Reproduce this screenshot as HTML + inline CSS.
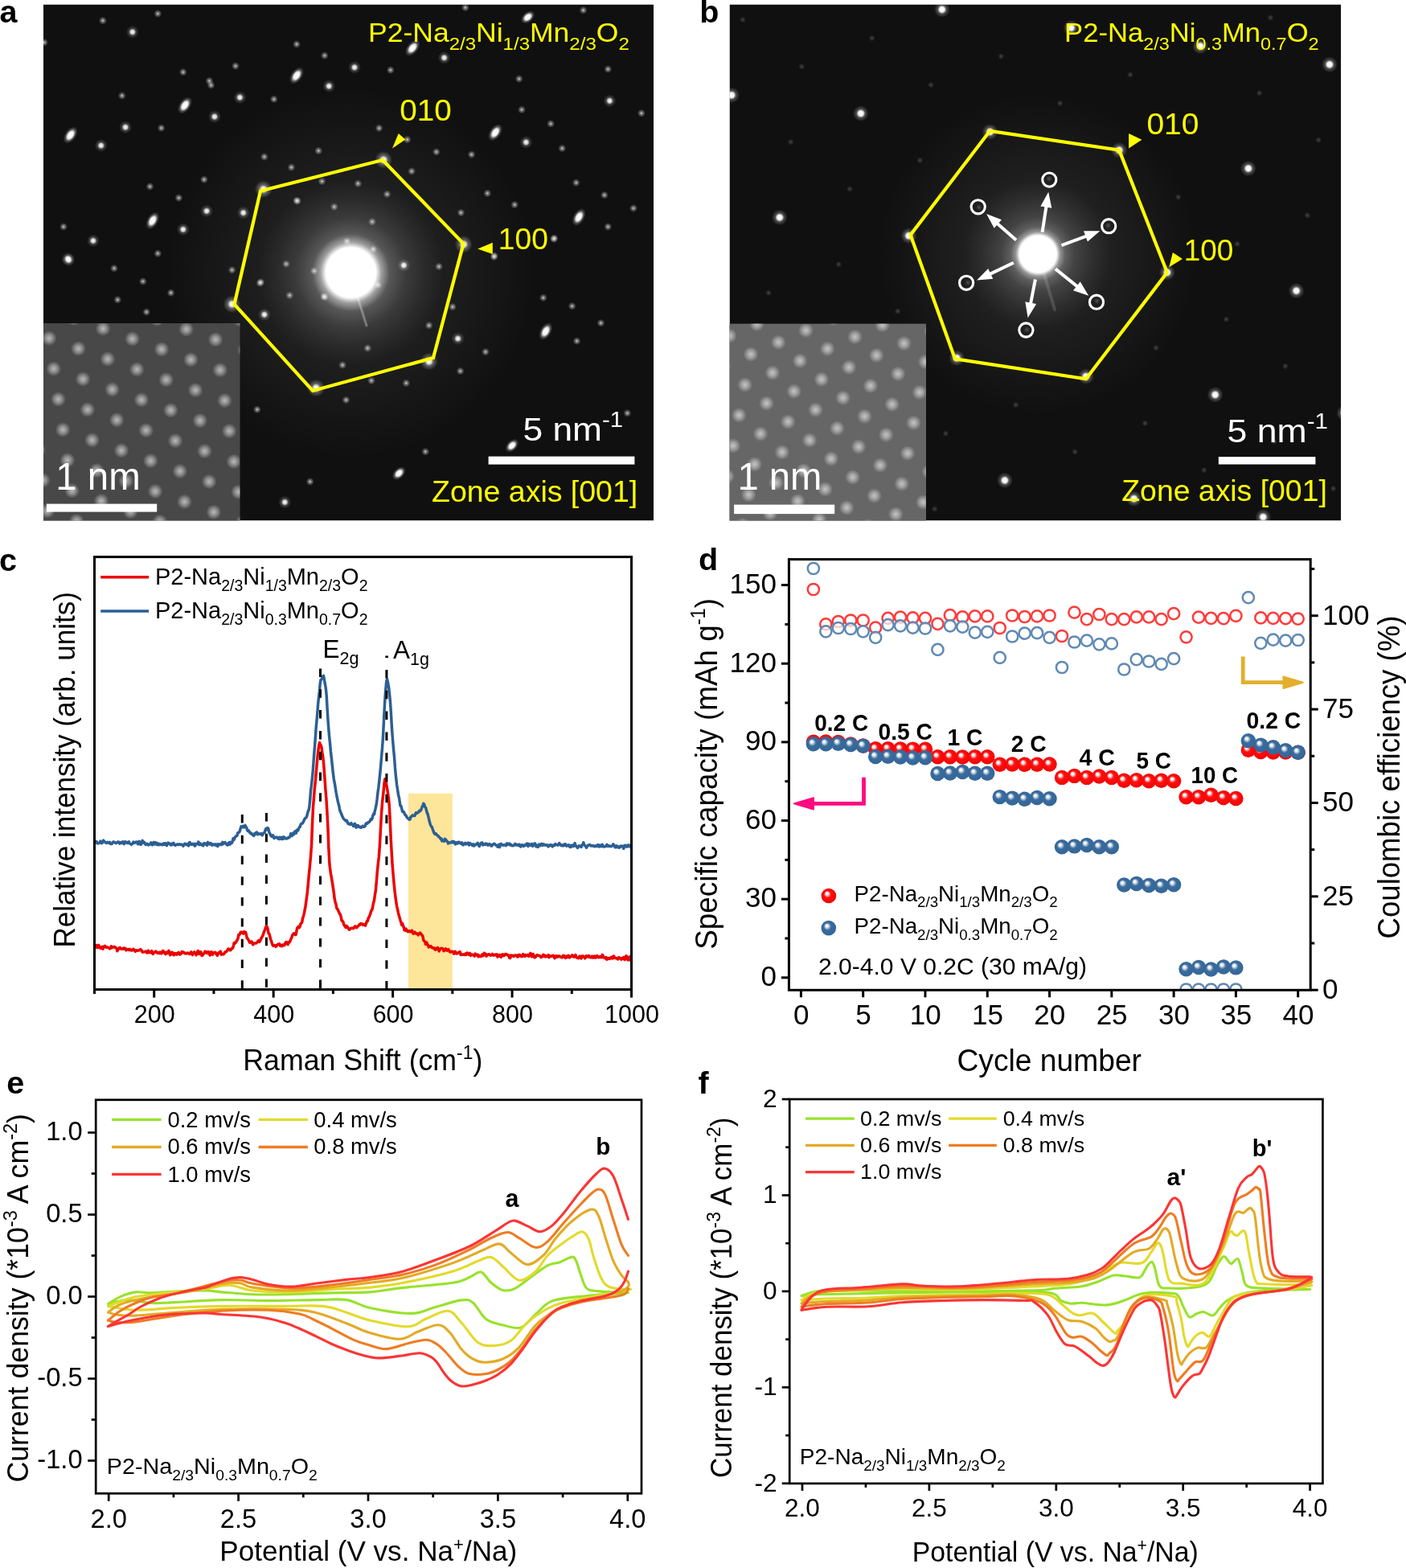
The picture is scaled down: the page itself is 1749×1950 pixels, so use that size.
<!DOCTYPE html>
<html><head><meta charset="utf-8"><title>Figure</title>
<style>html,body{margin:0;padding:0;background:#fff;}body{width:1749px;height:1950px;overflow:hidden;}svg{display:block;}</style>
</head><body>
<svg xmlns="http://www.w3.org/2000/svg" width="1749" height="1950" viewBox="0 0 1749 1950">
<rect x="0" y="0" width="1749" height="1950" fill="#fff"/>
<defs><radialGradient id="gS"><stop offset="0" stop-color="#fff" stop-opacity="0.85"/><stop offset="0.3" stop-color="#fff" stop-opacity="0.45"/><stop offset="1" stop-color="#fff" stop-opacity="0"/></radialGradient><radialGradient id="gM"><stop offset="0" stop-color="#fff" stop-opacity="1"/><stop offset="0.3" stop-color="#fff" stop-opacity="0.8"/><stop offset="0.55" stop-color="#fff" stop-opacity="0.2"/><stop offset="1" stop-color="#fff" stop-opacity="0"/></radialGradient><radialGradient id="gB"><stop offset="0" stop-color="#fff" stop-opacity="1"/><stop offset="0.4" stop-color="#fff" stop-opacity="0.95"/><stop offset="0.7" stop-color="#fff" stop-opacity="0.25"/><stop offset="1" stop-color="#fff" stop-opacity="0"/></radialGradient><radialGradient id="gV"><stop offset="0" stop-color="#fff" stop-opacity="1"/><stop offset="0.25" stop-color="#fff" stop-opacity="0.9"/><stop offset="0.5" stop-color="#fff" stop-opacity="0.3"/><stop offset="1" stop-color="#fff" stop-opacity="0"/></radialGradient><radialGradient id="gL"><stop offset="0" stop-color="#fff" stop-opacity="1"/><stop offset="0.3" stop-color="#fff" stop-opacity="0.95"/><stop offset="0.55" stop-color="#fff" stop-opacity="0.25"/><stop offset="1" stop-color="#fff" stop-opacity="0"/></radialGradient><radialGradient id="gF"><stop offset="0" stop-color="#fff" stop-opacity="0.22"/><stop offset="1" stop-color="#fff" stop-opacity="0"/></radialGradient><radialGradient id="gCa"><stop offset="0" stop-color="#fff" stop-opacity="1"/><stop offset="0.27" stop-color="#fff" stop-opacity="1"/><stop offset="0.33" stop-color="#fff" stop-opacity="0.55"/><stop offset="0.42" stop-color="#fff" stop-opacity="0.22"/><stop offset="0.6" stop-color="#fff" stop-opacity="0.1"/><stop offset="0.8" stop-color="#fff" stop-opacity="0.04"/><stop offset="1" stop-color="#fff" stop-opacity="0"/></radialGradient><radialGradient id="gCb"><stop offset="0" stop-color="#fff" stop-opacity="1"/><stop offset="0.25" stop-color="#fff" stop-opacity="1"/><stop offset="0.3" stop-color="#fff" stop-opacity="0.5"/><stop offset="0.37" stop-color="#fff" stop-opacity="0.25"/><stop offset="0.5" stop-color="#fff" stop-opacity="0.13"/><stop offset="0.75" stop-color="#fff" stop-opacity="0.05"/><stop offset="1" stop-color="#fff" stop-opacity="0"/></radialGradient><radialGradient id="gHalo"><stop offset="0" stop-color="#fff" stop-opacity="0.13"/><stop offset="0.5" stop-color="#fff" stop-opacity="0.06"/><stop offset="1" stop-color="#fff" stop-opacity="0"/></radialGradient><radialGradient id="gDot"><stop offset="0" stop-color="#fff" stop-opacity="0.62"/><stop offset="0.45" stop-color="#fff" stop-opacity="0.38"/><stop offset="1" stop-color="#fff" stop-opacity="0"/></radialGradient><clipPath id="clipA"><rect x="54" y="5.5" width="759" height="642"/></clipPath><clipPath id="clipB"><rect x="907.5" y="5.5" width="760.5" height="642"/></clipPath><clipPath id="clipAi"><rect x="54" y="402" width="244.5" height="245.5"/></clipPath><clipPath id="clipBi"><rect x="907.5" y="402.6" width="244.5" height="245"/></clipPath></defs>
<g clip-path="url(#clipA)">
<rect x="54" y="5.5" width="759" height="642" fill="#101010"/>
<circle cx="436.5" cy="339" r="230" fill="url(#gHalo)"/>
<circle cx="127.9" cy="25.6" r="5" fill="url(#gS)"/>
<circle cx="196.3" cy="17" r="5" fill="url(#gS)"/>
<circle cx="164.8" cy="39.8" r="8" fill="url(#gM)"/>
<circle cx="55" cy="52.8" r="5" fill="url(#gS)"/>
<ellipse cx="0" cy="0" rx="12" ry="7" fill="url(#gB)" transform="translate(369,94) rotate(-55)"/>
<circle cx="409.2" cy="107.1" r="8" fill="url(#gM)"/>
<circle cx="260.4" cy="100.6" r="5" fill="url(#gS)"/>
<circle cx="262.6" cy="106" r="5" fill="url(#gS)"/>
<circle cx="298.4" cy="121.2" r="8" fill="url(#gM)"/>
<ellipse cx="0" cy="0" rx="12" ry="7" fill="url(#gB)" transform="translate(230,131) rotate(-55)"/>
<circle cx="266.9" cy="145.1" r="8" fill="url(#gM)"/>
<circle cx="156.1" cy="158.2" r="8" fill="url(#gM)"/>
<ellipse cx="0" cy="0" rx="12" ry="7" fill="url(#gB)" transform="translate(87.7,168) rotate(-55)"/>
<circle cx="125.7" cy="181" r="8" fill="url(#gM)"/>
<circle cx="293" cy="82.1" r="5" fill="url(#gS)"/>
<circle cx="227.8" cy="89.7" r="5" fill="url(#gS)"/>
<circle cx="151.8" cy="119" r="5" fill="url(#gS)"/>
<circle cx="403.8" cy="69.1" r="5" fill="url(#gS)"/>
<circle cx="369" cy="55" r="5" fill="url(#gS)"/>
<circle cx="328.8" cy="195" r="5" fill="url(#gS)"/>
<circle cx="362.5" cy="208.1" r="5" fill="url(#gS)"/>
<circle cx="396.2" cy="187.5" r="5" fill="url(#gS)"/>
<circle cx="253.9" cy="223.3" r="5" fill="url(#gS)"/>
<circle cx="186.5" cy="232" r="5" fill="url(#gS)"/>
<circle cx="222.4" cy="246.1" r="5" fill="url(#gS)"/>
<circle cx="257.1" cy="262.4" r="8" fill="url(#gM)"/>
<circle cx="302.7" cy="264.6" r="8" fill="url(#gM)"/>
<ellipse cx="0" cy="0" rx="12" ry="7" fill="url(#gB)" transform="translate(189.8,274.4) rotate(-60)"/>
<circle cx="227.8" cy="285.3" r="8" fill="url(#gM)"/>
<circle cx="115.9" cy="299.4" r="8" fill="url(#gM)"/>
<circle cx="79" cy="282" r="5" fill="url(#gS)"/>
<circle cx="85.5" cy="323.3" r="8" fill="url(#gM)"/>
<circle cx="369" cy="249.4" r="5" fill="url(#gS)"/>
<circle cx="400.5" cy="225.5" r="5" fill="url(#gS)"/>
<circle cx="327.7" cy="235.3" r="11" fill="url(#gV)"/>
<circle cx="200.6" cy="159.2" r="5" fill="url(#gS)"/>
<circle cx="340.8" cy="123.4" r="5" fill="url(#gS)"/>
<ellipse cx="0" cy="0" rx="12" ry="7" fill="url(#gB)" transform="translate(513.2,59.7) rotate(-50)"/>
<circle cx="552.6" cy="71.8" r="8" fill="url(#gM)"/>
<circle cx="441" cy="83.8" r="8" fill="url(#gM)"/>
<circle cx="485.8" cy="87.1" r="5" fill="url(#gS)"/>
<ellipse cx="0" cy="0" rx="10" ry="6.5" fill="url(#gB)" transform="translate(656.6,21.4) rotate(-40)"/>
<circle cx="725.6" cy="12.7" r="5" fill="url(#gS)"/>
<circle cx="578.9" cy="9.4" r="5" fill="url(#gS)"/>
<circle cx="758.4" cy="125.4" r="8" fill="url(#gM)"/>
<circle cx="685.1" cy="153.9" r="5" fill="url(#gS)"/>
<ellipse cx="0" cy="0" rx="12" ry="7" fill="url(#gB)" transform="translate(616.1,164.8) rotate(-55)"/>
<circle cx="654.4" cy="176.9" r="8" fill="url(#gM)"/>
<circle cx="586.6" cy="192.2" r="5" fill="url(#gS)"/>
<circle cx="542.8" cy="188.9" r="5" fill="url(#gS)"/>
<circle cx="506.6" cy="173.6" r="5" fill="url(#gS)"/>
<circle cx="512.1" cy="213" r="5" fill="url(#gS)"/>
<circle cx="471.6" cy="159.4" r="5" fill="url(#gS)"/>
<circle cx="649" cy="136.4" r="5" fill="url(#gS)"/>
<circle cx="716.8" cy="227.2" r="5" fill="url(#gS)"/>
<circle cx="606.3" cy="240.4" r="5" fill="url(#gS)"/>
<circle cx="573.4" cy="264.5" r="5" fill="url(#gS)"/>
<ellipse cx="0" cy="0" rx="12" ry="7" fill="url(#gB)" transform="translate(720.1,270) rotate(-60)"/>
<circle cx="756.3" cy="282" r="5" fill="url(#gS)"/>
<circle cx="689.5" cy="296.2" r="5" fill="url(#gS)"/>
<circle cx="615" cy="318.1" r="5" fill="url(#gS)"/>
<circle cx="788" cy="259" r="5" fill="url(#gS)"/>
<circle cx="751.9" cy="242.6" r="5" fill="url(#gS)"/>
<circle cx="640.2" cy="254.6" r="5" fill="url(#gS)"/>
<circle cx="481.5" cy="241.5" r="5" fill="url(#gS)"/>
<circle cx="445.3" cy="228.3" r="5" fill="url(#gS)"/>
<circle cx="756.3" cy="86" r="5" fill="url(#gS)"/>
<circle cx="797.9" cy="140.8" r="5" fill="url(#gS)"/>
<circle cx="699.3" cy="184.5" r="5" fill="url(#gS)"/>
<circle cx="645.7" cy="98.1" r="5" fill="url(#gS)"/>
<circle cx="477.1" cy="198.8" r="11" fill="url(#gV)"/>
<circle cx="576.7" cy="303.9" r="11" fill="url(#gV)"/>
<circle cx="569.6" cy="421.1" r="8" fill="url(#gM)"/>
<ellipse cx="0" cy="0" rx="12" ry="7" fill="url(#gB)" transform="translate(678.8,412.1) rotate(-60)"/>
<ellipse cx="0" cy="0" rx="10" ry="6.5" fill="url(#gB)" transform="translate(496.3,588.6) rotate(-45)"/>
<ellipse cx="0" cy="0" rx="10" ry="6.5" fill="url(#gB)" transform="translate(636.9,554.2) rotate(-45)"/>
<circle cx="354.3" cy="624.5" r="8" fill="url(#gM)"/>
<circle cx="328.9" cy="391.2" r="8" fill="url(#gM)"/>
<circle cx="502.3" cy="329.9" r="8" fill="url(#gM)"/>
<circle cx="533.7" cy="449.5" r="11" fill="url(#gV)"/>
<circle cx="393.2" cy="482.4" r="11" fill="url(#gV)"/>
<circle cx="572.6" cy="461.5" r="5" fill="url(#gS)"/>
<circle cx="430.5" cy="497.4" r="5" fill="url(#gS)"/>
<circle cx="319.9" cy="509.3" r="5" fill="url(#gS)"/>
<circle cx="604" cy="437.6" r="5" fill="url(#gS)"/>
<circle cx="533.7" cy="404.7" r="5" fill="url(#gS)"/>
<circle cx="360.3" cy="367.3" r="5" fill="url(#gS)"/>
<circle cx="324.4" cy="350.8" r="5" fill="url(#gS)"/>
<circle cx="614.5" cy="319.4" r="5" fill="url(#gS)"/>
<circle cx="675.8" cy="370.3" r="5" fill="url(#gS)"/>
<circle cx="717.6" cy="424.1" r="5" fill="url(#gS)"/>
<circle cx="747.5" cy="401.7" r="5" fill="url(#gS)"/>
<circle cx="780.4" cy="513.8" r="5" fill="url(#gS)"/>
<circle cx="529.2" cy="561.7" r="5" fill="url(#gS)"/>
<circle cx="385.7" cy="599" r="5" fill="url(#gS)"/>
<circle cx="711.7" cy="380.7" r="5" fill="url(#gS)"/>
<circle cx="426.1" cy="454" r="5" fill="url(#gS)"/>
<circle cx="462" cy="473.4" r="5" fill="url(#gS)"/>
<circle cx="505.3" cy="476.4" r="5" fill="url(#gS)"/>
<circle cx="84.4" cy="321.7" r="8" fill="url(#gM)"/>
<circle cx="196.3" cy="315.2" r="5" fill="url(#gS)"/>
<circle cx="142" cy="333.7" r="5" fill="url(#gS)"/>
<circle cx="177.8" cy="350" r="5" fill="url(#gS)"/>
<circle cx="146.3" cy="372.8" r="5" fill="url(#gS)"/>
<circle cx="182.2" cy="388" r="5" fill="url(#gS)"/>
<circle cx="212.6" cy="364.1" r="5" fill="url(#gS)"/>
<circle cx="288.6" cy="335.8" r="5" fill="url(#gS)"/>
<circle cx="323.4" cy="352.1" r="5" fill="url(#gS)"/>
<circle cx="356" cy="328.2" r="5" fill="url(#gS)"/>
<circle cx="390.7" cy="336.9" r="5" fill="url(#gS)"/>
<circle cx="403.8" cy="369.5" r="5" fill="url(#gS)"/>
<circle cx="288.6" cy="378.2" r="11" fill="url(#gV)"/>
<circle cx="370" cy="250" r="5" fill="url(#gS)"/>
<circle cx="415.8" cy="257.2" r="5" fill="url(#gS)"/>
<circle cx="463" cy="275.8" r="5" fill="url(#gS)"/>
<circle cx="546" cy="331.5" r="5" fill="url(#gS)"/>
<circle cx="403" cy="368.7" r="5" fill="url(#gS)"/>
<circle cx="470.2" cy="354.4" r="5" fill="url(#gS)"/>
<circle cx="464.4" cy="310" r="5" fill="url(#gS)"/>
<circle cx="431.6" cy="300" r="5" fill="url(#gS)"/>
<circle cx="563" cy="381.6" r="5" fill="url(#gS)"/>
<circle cx="457.3" cy="433" r="5" fill="url(#gS)"/>
<circle cx="688.9" cy="297.2" r="5" fill="url(#gS)"/>
<circle cx="436.5" cy="339" r="115" fill="url(#gCa)"/>
<path d="M445,370 L456,405" stroke="#fff" stroke-opacity="0.3" stroke-width="3" stroke-linecap="round"/>
</g>
<rect x="54" y="402" width="244.5" height="245.5" fill="#484848"/>
<g clip-path="url(#clipAi)"><circle cx="91.8" cy="395.7" r="9.5" fill="url(#gDot)"/><circle cx="61.1" cy="420.7" r="9.5" fill="url(#gDot)"/><circle cx="128.2" cy="408.6" r="9.5" fill="url(#gDot)"/><circle cx="97.5" cy="433.6" r="9.5" fill="url(#gDot)"/><circle cx="66.8" cy="458.6" r="9.5" fill="url(#gDot)"/><circle cx="195.3" cy="396.5" r="9.5" fill="url(#gDot)"/><circle cx="164.6" cy="421.5" r="9.5" fill="url(#gDot)"/><circle cx="133.9" cy="446.5" r="9.5" fill="url(#gDot)"/><circle cx="103.2" cy="471.5" r="9.5" fill="url(#gDot)"/><circle cx="72.5" cy="496.5" r="9.5" fill="url(#gDot)"/><circle cx="231.7" cy="409.4" r="9.5" fill="url(#gDot)"/><circle cx="201" cy="434.4" r="9.5" fill="url(#gDot)"/><circle cx="170.3" cy="459.4" r="9.5" fill="url(#gDot)"/><circle cx="139.6" cy="484.4" r="9.5" fill="url(#gDot)"/><circle cx="108.9" cy="509.4" r="9.5" fill="url(#gDot)"/><circle cx="78.2" cy="534.4" r="9.5" fill="url(#gDot)"/><circle cx="47.5" cy="559.4" r="9.5" fill="url(#gDot)"/><circle cx="298.8" cy="397.3" r="9.5" fill="url(#gDot)"/><circle cx="268.1" cy="422.3" r="9.5" fill="url(#gDot)"/><circle cx="237.4" cy="447.3" r="9.5" fill="url(#gDot)"/><circle cx="206.7" cy="472.3" r="9.5" fill="url(#gDot)"/><circle cx="176" cy="497.3" r="9.5" fill="url(#gDot)"/><circle cx="145.3" cy="522.3" r="9.5" fill="url(#gDot)"/><circle cx="114.6" cy="547.3" r="9.5" fill="url(#gDot)"/><circle cx="83.9" cy="572.3" r="9.5" fill="url(#gDot)"/><circle cx="53.2" cy="597.3" r="9.5" fill="url(#gDot)"/><circle cx="304.5" cy="435.2" r="9.5" fill="url(#gDot)"/><circle cx="273.8" cy="460.2" r="9.5" fill="url(#gDot)"/><circle cx="243.1" cy="485.2" r="9.5" fill="url(#gDot)"/><circle cx="212.4" cy="510.2" r="9.5" fill="url(#gDot)"/><circle cx="181.7" cy="535.2" r="9.5" fill="url(#gDot)"/><circle cx="151" cy="560.2" r="9.5" fill="url(#gDot)"/><circle cx="120.3" cy="585.2" r="9.5" fill="url(#gDot)"/><circle cx="89.6" cy="610.2" r="9.5" fill="url(#gDot)"/><circle cx="58.9" cy="635.2" r="9.5" fill="url(#gDot)"/><circle cx="310.2" cy="473.1" r="9.5" fill="url(#gDot)"/><circle cx="279.5" cy="498.1" r="9.5" fill="url(#gDot)"/><circle cx="248.8" cy="523.1" r="9.5" fill="url(#gDot)"/><circle cx="218.1" cy="548.1" r="9.5" fill="url(#gDot)"/><circle cx="187.4" cy="573.1" r="9.5" fill="url(#gDot)"/><circle cx="156.7" cy="598.1" r="9.5" fill="url(#gDot)"/><circle cx="126" cy="623.1" r="9.5" fill="url(#gDot)"/><circle cx="95.3" cy="648.1" r="9.5" fill="url(#gDot)"/><circle cx="285.2" cy="536" r="9.5" fill="url(#gDot)"/><circle cx="254.5" cy="561" r="9.5" fill="url(#gDot)"/><circle cx="223.8" cy="586" r="9.5" fill="url(#gDot)"/><circle cx="193.1" cy="611" r="9.5" fill="url(#gDot)"/><circle cx="162.4" cy="636" r="9.5" fill="url(#gDot)"/><circle cx="290.9" cy="573.9" r="9.5" fill="url(#gDot)"/><circle cx="260.2" cy="598.9" r="9.5" fill="url(#gDot)"/><circle cx="229.5" cy="623.9" r="9.5" fill="url(#gDot)"/><circle cx="198.8" cy="648.9" r="9.5" fill="url(#gDot)"/><circle cx="296.6" cy="611.8" r="9.5" fill="url(#gDot)"/><circle cx="265.9" cy="636.8" r="9.5" fill="url(#gDot)"/><circle cx="302.3" cy="649.7" r="9.5" fill="url(#gDot)"/></g>
<rect x="58" y="626.6" width="137.2" height="10" fill="#fff"/>
<text x="69.2" y="608.7" font-family='"Liberation Sans", Arial, Helvetica, sans-serif' font-size="47.5" font-weight="normal" fill="#fff" text-anchor="start" textLength="105.5" lengthAdjust="spacingAndGlyphs" >1 nm</text>
<path d="M476,199 L576.5,303 L539,445 L389,486 L291.5,378.5 L324,237.5 Z" fill="none" stroke="#ffff00" stroke-width="4.2" stroke-linejoin="miter"/>
<path d="M488,184.5 L495.7,165.9 L504.4,173.6 Z" fill="#ffff00"/>
<path d="M594.2,309.4 L612.8,301.7 L612.8,315.9 Z" fill="#ffff00"/>
<text x="497.2" y="149.5" font-family='"Liberation Sans", Arial, Helvetica, sans-serif' font-size="37" font-weight="normal" fill="#ffff00" text-anchor="start" textLength="64.5" lengthAdjust="spacingAndGlyphs" >010</text>
<text x="619.8" y="310.4" font-family='"Liberation Sans", Arial, Helvetica, sans-serif' font-size="37" font-weight="normal" fill="#ffff00" text-anchor="start" textLength="62" lengthAdjust="spacingAndGlyphs" >100</text>
<text x="458" y="52.4" font-family='"Liberation Sans", Arial, Helvetica, sans-serif' font-size="32.5" fill="#ffff00" textLength="324.8" lengthAdjust="spacingAndGlyphs"><tspan>P2-Na</tspan><tspan dy="9.7" font-size="22">2/3</tspan><tspan dy="-9.7">Ni</tspan><tspan dy="9.7" font-size="22">1/3</tspan><tspan dy="-9.7">Mn</tspan><tspan dy="9.7" font-size="22">2/3</tspan><tspan dy="-9.7">O</tspan><tspan dy="9.7" font-size="22">2</tspan></text>
<rect x="607.6" y="567.6" width="181.8" height="10" fill="#fff"/>
<text x="650.5" y="548.2" font-family='"Liberation Sans", Arial, Helvetica, sans-serif' font-size="41" fill="#fff" textLength="124.5" lengthAdjust="spacingAndGlyphs">5 nm<tspan dy="-17" font-size="27">-1</tspan></text>
<text x="537" y="623.6" font-family='"Liberation Sans", Arial, Helvetica, sans-serif' font-size="37" font-weight="normal" fill="#ffff00" text-anchor="start" textLength="256.2" lengthAdjust="spacingAndGlyphs" >Zone axis [001]</text>
<text x="-0.5" y="28" font-family='"Liberation Sans", Arial, Helvetica, sans-serif' font-size="39.5" font-weight="bold" fill="#000" text-anchor="start" >a</text>
<g clip-path="url(#clipB)">
<rect x="907.5" y="5.5" width="760.5" height="642" fill="#101010"/>
<circle cx="923.87" cy="24.5" r="4" fill="url(#gF)"/>
<circle cx="997.33" cy="82.8" r="4" fill="url(#gF)"/>
<circle cx="983.57" cy="176.6" r="4" fill="url(#gF)"/>
<circle cx="1084.57" cy="47.3" r="4" fill="url(#gF)"/>
<circle cx="956.03" cy="364.2" r="4" fill="url(#gF)"/>
<circle cx="1057.03" cy="234.9" r="4" fill="url(#gF)"/>
<circle cx="1158.03" cy="105.6" r="4" fill="url(#gF)"/>
<circle cx="942.27" cy="458" r="4" fill="url(#gF)"/>
<circle cx="1043.27" cy="328.7" r="4" fill="url(#gF)"/>
<circle cx="1144.27" cy="199.4" r="4" fill="url(#gF)"/>
<circle cx="1245.27" cy="70.1" r="4" fill="url(#gF)"/>
<circle cx="914.73" cy="645.6" r="4" fill="url(#gF)"/>
<circle cx="1015.73" cy="516.3" r="4" fill="url(#gF)"/>
<circle cx="1116.73" cy="387" r="4" fill="url(#gF)"/>
<circle cx="1217.73" cy="257.7" r="4" fill="url(#gF)"/>
<circle cx="1318.73" cy="128.4" r="4" fill="url(#gF)"/>
<circle cx="1001.97" cy="610.1" r="4" fill="url(#gF)"/>
<circle cx="1102.97" cy="480.8" r="4" fill="url(#gF)"/>
<circle cx="1203.97" cy="351.5" r="4" fill="url(#gF)"/>
<circle cx="1304.97" cy="222.2" r="4" fill="url(#gF)"/>
<circle cx="1405.97" cy="92.9" r="4" fill="url(#gF)"/>
<circle cx="1176.43" cy="539.1" r="4" fill="url(#gF)"/>
<circle cx="1277.43" cy="409.8" r="4" fill="url(#gF)"/>
<circle cx="1378.43" cy="280.5" r="4" fill="url(#gF)"/>
<circle cx="1479.43" cy="151.2" r="4" fill="url(#gF)"/>
<circle cx="1580.43" cy="21.9" r="4" fill="url(#gF)"/>
<circle cx="1162.67" cy="632.9" r="4" fill="url(#gF)"/>
<circle cx="1263.67" cy="503.6" r="4" fill="url(#gF)"/>
<circle cx="1364.67" cy="374.3" r="4" fill="url(#gF)"/>
<circle cx="1465.67" cy="245" r="4" fill="url(#gF)"/>
<circle cx="1566.67" cy="115.7" r="4" fill="url(#gF)"/>
<circle cx="1337.13" cy="561.9" r="4" fill="url(#gF)"/>
<circle cx="1438.13" cy="432.6" r="4" fill="url(#gF)"/>
<circle cx="1539.13" cy="303.3" r="4" fill="url(#gF)"/>
<circle cx="1640.13" cy="174" r="4" fill="url(#gF)"/>
<circle cx="1424.37" cy="526.4" r="4" fill="url(#gF)"/>
<circle cx="1525.37" cy="397.1" r="4" fill="url(#gF)"/>
<circle cx="1626.37" cy="267.8" r="4" fill="url(#gF)"/>
<circle cx="1497.83" cy="584.7" r="4" fill="url(#gF)"/>
<circle cx="1598.83" cy="455.4" r="4" fill="url(#gF)"/>
<circle cx="1585.07" cy="549.2" r="4" fill="url(#gF)"/>
<circle cx="1658.53" cy="607.5" r="4" fill="url(#gF)"/>
<circle cx="1291.2" cy="316" r="200" fill="url(#gHalo)"/>
<circle cx="910.1" cy="118.3" r="10" fill="url(#gL)"/>
<circle cx="969.8" cy="270.4" r="10" fill="url(#gL)"/>
<circle cx="1070.8" cy="141.1" r="10" fill="url(#gL)"/>
<circle cx="1171.8" cy="11.8" r="10" fill="url(#gL)"/>
<circle cx="928.5" cy="551.8" r="10" fill="url(#gL)"/>
<circle cx="1029.5" cy="422.5" r="10" fill="url(#gL)"/>
<circle cx="1130.5" cy="293.2" r="10" fill="url(#gL)"/>
<circle cx="1231.5" cy="163.9" r="10" fill="url(#gL)"/>
<circle cx="1332.5" cy="34.6" r="10" fill="url(#gL)"/>
<circle cx="1089.2" cy="574.6" r="10" fill="url(#gL)"/>
<circle cx="1190.2" cy="445.3" r="10" fill="url(#gL)"/>
<circle cx="1392.2" cy="186.7" r="10" fill="url(#gL)"/>
<circle cx="1493.2" cy="57.4" r="10" fill="url(#gL)"/>
<circle cx="1249.9" cy="597.4" r="10" fill="url(#gL)"/>
<circle cx="1350.9" cy="468.1" r="10" fill="url(#gL)"/>
<circle cx="1451.9" cy="338.8" r="10" fill="url(#gL)"/>
<circle cx="1552.9" cy="209.5" r="10" fill="url(#gL)"/>
<circle cx="1653.9" cy="80.2" r="10" fill="url(#gL)"/>
<circle cx="1410.6" cy="620.2" r="10" fill="url(#gL)"/>
<circle cx="1511.6" cy="490.9" r="10" fill="url(#gL)"/>
<circle cx="1612.6" cy="361.6" r="10" fill="url(#gL)"/>
<circle cx="1571.3" cy="643" r="10" fill="url(#gL)"/>
<circle cx="1672.3" cy="513.7" r="10" fill="url(#gL)"/>
<circle cx="1291.2" cy="316" r="92" fill="url(#gCb)"/>
<path d="M1298,338 L1312,385" stroke="#fff" stroke-opacity="0.14" stroke-width="4" stroke-linecap="round"/>
</g>
<rect x="907.5" y="402.6" width="244.5" height="245" fill="#666"/>
<g clip-path="url(#clipBi)"><circle cx="897.1" cy="630.1" r="9.5" fill="url(#gDot)"/><circle cx="923.9" cy="653.1" r="9.5" fill="url(#gDot)"/><circle cx="904.5" cy="592.2" r="9.5" fill="url(#gDot)"/><circle cx="931.3" cy="615.2" r="9.5" fill="url(#gDot)"/><circle cx="958.1" cy="638.2" r="9.5" fill="url(#gDot)"/><circle cx="911.9" cy="554.3" r="9.5" fill="url(#gDot)"/><circle cx="938.7" cy="577.3" r="9.5" fill="url(#gDot)"/><circle cx="965.5" cy="600.3" r="9.5" fill="url(#gDot)"/><circle cx="992.3" cy="623.3" r="9.5" fill="url(#gDot)"/><circle cx="1019.1" cy="646.3" r="9.5" fill="url(#gDot)"/><circle cx="919.3" cy="516.4" r="9.5" fill="url(#gDot)"/><circle cx="946.1" cy="539.4" r="9.5" fill="url(#gDot)"/><circle cx="972.9" cy="562.4" r="9.5" fill="url(#gDot)"/><circle cx="999.7" cy="585.4" r="9.5" fill="url(#gDot)"/><circle cx="1026.5" cy="608.4" r="9.5" fill="url(#gDot)"/><circle cx="1053.3" cy="631.4" r="9.5" fill="url(#gDot)"/><circle cx="1080.1" cy="654.4" r="9.5" fill="url(#gDot)"/><circle cx="899.9" cy="455.5" r="9.5" fill="url(#gDot)"/><circle cx="926.7" cy="478.5" r="9.5" fill="url(#gDot)"/><circle cx="953.5" cy="501.5" r="9.5" fill="url(#gDot)"/><circle cx="980.3" cy="524.5" r="9.5" fill="url(#gDot)"/><circle cx="1007.1" cy="547.5" r="9.5" fill="url(#gDot)"/><circle cx="1033.9" cy="570.5" r="9.5" fill="url(#gDot)"/><circle cx="1060.7" cy="593.5" r="9.5" fill="url(#gDot)"/><circle cx="1087.5" cy="616.5" r="9.5" fill="url(#gDot)"/><circle cx="1114.3" cy="639.5" r="9.5" fill="url(#gDot)"/><circle cx="907.3" cy="417.6" r="9.5" fill="url(#gDot)"/><circle cx="934.1" cy="440.6" r="9.5" fill="url(#gDot)"/><circle cx="960.9" cy="463.6" r="9.5" fill="url(#gDot)"/><circle cx="987.7" cy="486.6" r="9.5" fill="url(#gDot)"/><circle cx="1014.5" cy="509.6" r="9.5" fill="url(#gDot)"/><circle cx="1041.3" cy="532.6" r="9.5" fill="url(#gDot)"/><circle cx="1068.1" cy="555.6" r="9.5" fill="url(#gDot)"/><circle cx="1094.9" cy="578.6" r="9.5" fill="url(#gDot)"/><circle cx="1121.7" cy="601.6" r="9.5" fill="url(#gDot)"/><circle cx="1148.5" cy="624.6" r="9.5" fill="url(#gDot)"/><circle cx="941.5" cy="402.7" r="9.5" fill="url(#gDot)"/><circle cx="968.3" cy="425.7" r="9.5" fill="url(#gDot)"/><circle cx="995.1" cy="448.7" r="9.5" fill="url(#gDot)"/><circle cx="1021.9" cy="471.7" r="9.5" fill="url(#gDot)"/><circle cx="1048.7" cy="494.7" r="9.5" fill="url(#gDot)"/><circle cx="1075.5" cy="517.7" r="9.5" fill="url(#gDot)"/><circle cx="1102.3" cy="540.7" r="9.5" fill="url(#gDot)"/><circle cx="1129.1" cy="563.7" r="9.5" fill="url(#gDot)"/><circle cx="1155.9" cy="586.7" r="9.5" fill="url(#gDot)"/><circle cx="1002.5" cy="410.8" r="9.5" fill="url(#gDot)"/><circle cx="1029.3" cy="433.8" r="9.5" fill="url(#gDot)"/><circle cx="1056.1" cy="456.8" r="9.5" fill="url(#gDot)"/><circle cx="1082.9" cy="479.8" r="9.5" fill="url(#gDot)"/><circle cx="1109.7" cy="502.8" r="9.5" fill="url(#gDot)"/><circle cx="1136.5" cy="525.8" r="9.5" fill="url(#gDot)"/><circle cx="1163.3" cy="548.8" r="9.5" fill="url(#gDot)"/><circle cx="1036.7" cy="395.9" r="9.5" fill="url(#gDot)"/><circle cx="1063.5" cy="418.9" r="9.5" fill="url(#gDot)"/><circle cx="1090.3" cy="441.9" r="9.5" fill="url(#gDot)"/><circle cx="1117.1" cy="464.9" r="9.5" fill="url(#gDot)"/><circle cx="1143.9" cy="487.9" r="9.5" fill="url(#gDot)"/><circle cx="1097.7" cy="404" r="9.5" fill="url(#gDot)"/><circle cx="1124.5" cy="427" r="9.5" fill="url(#gDot)"/><circle cx="1151.3" cy="450" r="9.5" fill="url(#gDot)"/><circle cx="1158.7" cy="412.1" r="9.5" fill="url(#gDot)"/></g>
<rect x="913.1" y="627.6" width="125.1" height="11.5" fill="#fff"/>
<text x="917.4" y="608.5" font-family='"Liberation Sans", Arial, Helvetica, sans-serif' font-size="47.5" font-weight="normal" fill="#fff" text-anchor="start" textLength="105" lengthAdjust="spacingAndGlyphs" >1 nm</text>
<path d="M1231.4,162.8 L1392.2,186.7 L1451.9,338.8 L1350.9,471.3 L1188,446.3 L1132.6,292.1 Z" fill="none" stroke="#ffff00" stroke-width="4.2" stroke-linejoin="miter"/>
<circle cx="1305.3" cy="223.6" r="8.6" fill="none" stroke="#fff" stroke-width="3.1"/>
<circle cx="1216.7" cy="257.3" r="8.6" fill="none" stroke="#fff" stroke-width="3.1"/>
<circle cx="1379.2" cy="281.2" r="8.6" fill="none" stroke="#fff" stroke-width="3.1"/>
<circle cx="1202.1" cy="351.8" r="8.6" fill="none" stroke="#fff" stroke-width="3.1"/>
<circle cx="1364" cy="375.7" r="8.6" fill="none" stroke="#fff" stroke-width="3.1"/>
<circle cx="1276.4" cy="410.5" r="8.6" fill="none" stroke="#fff" stroke-width="3.1"/>
<line x1="1296.6" y1="288.8" x2="1301.5" y2="256.6" stroke="#fff" stroke-width="4"/><path d="M1304.2,238.8 L1308.27,258.64 L1294.42,256.53 Z" fill="#fff"/>
<line x1="1264" y1="298.6" x2="1240.59" y2="277.92" stroke="#fff" stroke-width="4"/><path d="M1227.1,266 L1245.97,273.33 L1236.7,283.83 Z" fill="#fff"/>
<line x1="1320.5" y1="305.1" x2="1351.43" y2="293.58" stroke="#fff" stroke-width="4"/><path d="M1368.3,287.3 L1352.94,300.49 L1348.05,287.37 Z" fill="#fff"/>
<line x1="1260.8" y1="326.8" x2="1231.35" y2="340.85" stroke="#fff" stroke-width="4"/><path d="M1215.1,348.6 L1229.23,334.1 L1235.26,346.74 Z" fill="#fff"/>
<line x1="1312.9" y1="334.4" x2="1340.19" y2="356.4" stroke="#fff" stroke-width="4"/><path d="M1354.2,367.7 L1335.02,361.22 L1343.8,350.32 Z" fill="#fff"/>
<line x1="1287.9" y1="347.5" x2="1282.04" y2="377.63" stroke="#fff" stroke-width="4"/><path d="M1278.6,395.3 L1275.36,375.31 L1289.1,377.99 Z" fill="#fff"/>
<path d="M1420.4,173.7 L1404.1,166.1 L1404.1,184.5 Z" fill="#ffff00"/>
<path d="M1470.9,322.1 L1458.9,313.9 L1454.3,332.2 Z" fill="#ffff00"/>
<text x="1426.4" y="166.7" font-family='"Liberation Sans", Arial, Helvetica, sans-serif' font-size="37" font-weight="normal" fill="#ffff00" text-anchor="start" textLength="65" lengthAdjust="spacingAndGlyphs" >010</text>
<text x="1472.8" y="324" font-family='"Liberation Sans", Arial, Helvetica, sans-serif' font-size="37" font-weight="normal" fill="#ffff00" text-anchor="start" textLength="61.5" lengthAdjust="spacingAndGlyphs" >100</text>
<text x="1324.1" y="52.2" font-family='"Liberation Sans", Arial, Helvetica, sans-serif' font-size="32.5" fill="#ffff00" textLength="316.5" lengthAdjust="spacingAndGlyphs"><tspan>P2-Na</tspan><tspan dy="9.7" font-size="22">2/3</tspan><tspan dy="-9.7">Ni</tspan><tspan dy="9.7" font-size="22">0.3</tspan><tspan dy="-9.7">Mn</tspan><tspan dy="9.7" font-size="22">0.7</tspan><tspan dy="-9.7">O</tspan><tspan dy="9.7" font-size="22">2</tspan></text>
<rect x="1515.8" y="568.1" width="120.6" height="9.4" fill="#fff"/>
<text x="1526.6" y="549.7" font-family='"Liberation Sans", Arial, Helvetica, sans-serif' font-size="41" fill="#fff" textLength="125.2" lengthAdjust="spacingAndGlyphs">5 nm<tspan dy="-17" font-size="27">-1</tspan></text>
<text x="1395.3" y="623.1" font-family='"Liberation Sans", Arial, Helvetica, sans-serif' font-size="37" font-weight="normal" fill="#ffff00" text-anchor="start" textLength="255.5" lengthAdjust="spacingAndGlyphs" >Zone axis [001]</text>
<text x="870.2" y="27.8" font-family='"Liberation Sans", Arial, Helvetica, sans-serif' font-size="39.5" font-weight="bold" fill="#000" text-anchor="start" >b</text>
<rect x="508" y="986.8" width="54.8" height="243.8" fill="#fde599"/>
<path d="M118,1047.33 L118.42,1048.03 L118.88,1047.61 L119.36,1047.19 L119.87,1046.51 L120.41,1047 L120.97,1048.72 L121.56,1048.6 L122.17,1048.94 L122.81,1048.4 L123.47,1048.21 L124.16,1048.07 L124.86,1046.04 L125.59,1047.86 L126.33,1048.64 L127.1,1048.49 L127.88,1046.2 L128.67,1045.17 L129.49,1046.05 L130.32,1046.89 L131.16,1047.91 L132.02,1047.9 L132.89,1048.35 L133.77,1047.39 L134.66,1047.88 L135.56,1048.41 L136.47,1047.36 L137.39,1049.4 L138.31,1049.26 L139.24,1049.43 L140.18,1047.82 L141.12,1046.89 L142.07,1047.27 L143.02,1047.71 L143.97,1048.61 L144.92,1048.56 L145.87,1047.67 L146.83,1046.84 L147.78,1047.08 L148.72,1049.13 L149.67,1047.8 L150.61,1048.01 L151.55,1048.69 L152.48,1046.78 L153.4,1047.55 L154.31,1049.58 L155.22,1046.68 L156.12,1046.98 L157.01,1047.99 L157.88,1047.36 L158.75,1048.43 L159.6,1048.46 L160.38,1046.75 L161.17,1048.55 L161.96,1049.43 L162.75,1049.67 L163.54,1050.34 L164.34,1049.45 L165.13,1048.73 L165.93,1047.16 L166.73,1048.55 L167.53,1048.15 L168.33,1047.79 L169.13,1047.03 L169.94,1047 L170.74,1047.62 L171.55,1049.76 L172.36,1047.11 L173.16,1046.25 L173.97,1048.32 L174.79,1050.37 L175.6,1050.03 L176.41,1047.07 L177.22,1045.33 L178.04,1048.1 L178.85,1048.27 L179.67,1047.41 L180.49,1049.46 L181.3,1050.56 L182.12,1049.66 L182.94,1049.35 L183.76,1049.62 L184.58,1050.95 L185.4,1050.47 L186.22,1049.95 L187.04,1049.97 L187.86,1047.78 L188.68,1049.85 L189.5,1050.81 L190.32,1050.25 L191.14,1047.45 L191.96,1047.75 L192.77,1049.93 L193.59,1047.83 L194.41,1048.37 L195.23,1050.39 L196.05,1048.5 L196.87,1050.54 L197.69,1050.77 L198.5,1049.57 L199.32,1049.78 L200.13,1050.35 L200.95,1049.96 L201.76,1050.81 L202.58,1049.39 L203.39,1048.85 L204.2,1050.51 L205.01,1050.11 L205.83,1048.71 L206.65,1050.24 L207.48,1051.61 L208.31,1049.85 L209.14,1048.02 L209.98,1048.92 L210.82,1049.47 L211.67,1049.32 L212.51,1051.05 L213.36,1049.27 L214.21,1050.59 L215.06,1048.97 L215.91,1048.34 L216.77,1050.05 L217.62,1051.22 L218.48,1051.17 L219.33,1050.51 L220.19,1050.07 L221.05,1049.99 L221.9,1050.45 L222.76,1049.85 L223.61,1049.99 L224.46,1050.51 L225.31,1050.05 L226.16,1050.59 L227.01,1050.73 L227.85,1052.16 L228.7,1051.04 L229.53,1049.5 L230.37,1049.22 L231.2,1049.62 L232.03,1050.77 L232.86,1049.86 L233.68,1050.06 L234.5,1051.91 L235.31,1047.94 L236.11,1047.47 L236.92,1049.55 L237.71,1050.33 L238.5,1050.23 L239.29,1049.46 L240.06,1050.3 L240.83,1050.39 L241.6,1049.38 L242.35,1052.12 L243.1,1051.27 L243.85,1049.38 L244.58,1049.45 L245.31,1049.52 L246.02,1049.63 L246.73,1046.91 L247.43,1048.06 L248.12,1050.64 L248.8,1049.03 L249.8,1049.2 L250.79,1050.77 L251.78,1051.13 L252.76,1051.76 L253.73,1048.69 L254.69,1048.68 L255.65,1049.3 L256.59,1050.32 L257.53,1051.25 L258.45,1047.5 L259.37,1049.77 L260.27,1048.81 L261.17,1049.91 L262.05,1048.58 L262.92,1049.36 L263.78,1051.18 L264.63,1050.23 L265.47,1049.98 L266.29,1050.77 L267.1,1050.36 L267.9,1049.82 L268.68,1051.41 L269.45,1051.63 L270.2,1050 L270.94,1052.58 L271.66,1049.85 L272.37,1050.25 L273.06,1049.93 L273.73,1049.8 L274.39,1050.57 L275.03,1050.3 L275.66,1050.5 L276.26,1048.39 L276.85,1047.41 L277.42,1049.63 L277.97,1048.9 L278.5,1048.09 L280.1,1047.49 L281.42,1050.06 L282.51,1050.64 L283.39,1051.04 L284.12,1048.7 L284.72,1048.44 L285.25,1047.46 L285.74,1048.71 L286.24,1050.15 L286.78,1047.58 L287.4,1048.64 L288.39,1048.41 L289.26,1046.1 L290.06,1042.77 L290.83,1044.47 L291.61,1043.27 L292.45,1040.8 L293.4,1040.25 L294.14,1039.57 L294.92,1039.36 L295.75,1035.69 L296.59,1035.24 L297.46,1034.98 L298.32,1033.57 L299.18,1030.44 L300.02,1027.92 L300.83,1028.6 L301.6,1027.88 L302.5,1027.29 L303.36,1028.95 L304.19,1028.4 L305,1026.4 L305.8,1028.52 L306.61,1028.88 L307.44,1031.98 L308.3,1033.4 L309.08,1032.75 L309.84,1033.53 L310.6,1035.25 L311.38,1035.39 L312.17,1036.89 L312.99,1036.47 L313.84,1037.43 L314.74,1038.76 L315.7,1039.36 L316.41,1037.17 L317.17,1037.9 L317.97,1035.81 L318.8,1035.48 L319.65,1034.97 L320.51,1037.78 L321.38,1036.73 L322.23,1036.94 L323.07,1037.23 L323.89,1037.22 L324.67,1036.56 L325.41,1037 L326.1,1038.79 L327.12,1037.08 L328.07,1035.93 L328.95,1035.61 L329.77,1033.47 L330.56,1030.79 L331.32,1030.23 L332.06,1031.75 L332.8,1029.55 L333.71,1030.12 L334.51,1033.67 L335.26,1035.97 L336.05,1036.99 L336.94,1039.28 L338,1040.34 L338.67,1039.2 L339.39,1038.71 L340.16,1039.98 L340.96,1042.46 L341.8,1041.99 L342.65,1041.32 L343.51,1041.6 L344.37,1041.12 L345.23,1042.48 L346.08,1042.18 L346.9,1043.45 L347.71,1041.37 L348.52,1043 L349.33,1043.18 L350.14,1041.32 L350.95,1043.44 L351.75,1043.45 L352.56,1040.77 L353.37,1041.1 L354.18,1042.69 L354.99,1042.15 L355.8,1042.81 L356.62,1042.98 L357.47,1042.47 L358.32,1041.6 L359.19,1042 L360.05,1041.2 L360.9,1040.12 L361.73,1036.79 L362.53,1038.21 L363.3,1039.42 L364.03,1037.38 L364.7,1035.97 L365.8,1037.56 L366.75,1033.95 L367.61,1033.81 L368.4,1036.05 L369.19,1032.55 L370,1031.81 L370.83,1032.78 L371.63,1030.14 L372.42,1028.84 L373.21,1028.36 L374,1025.48 L374.8,1024.4 L375.62,1024.08 L376.47,1023.75 L377.32,1022.02 L378.15,1020.36 L378.95,1018.28 L379.7,1017.37 L380.74,1017.14 L381.71,1015.01 L382.59,1011.47 L383.4,1008.23 L384.29,1007.09 L385.04,1001.29 L385.8,993.48 L386.63,982.44 L387.46,976.12 L388.3,968.48 L389.14,959.87 L389.97,948.6 L390.8,937.02 L392,922.07 L393.2,904.39 L394.03,895.92 L394.86,886.02 L395.7,874.81 L396.54,867.18 L397.37,859.99 L398.2,850.14 L399.03,845.52 L399.84,844.83 L400.6,843.72 L401.59,841.23 L402.5,840.3 L403.4,845.41 L404.3,850.34 L405.25,855.5 L406.2,864.85 L407.06,880.71 L408,895.61 L408.76,906.14 L409.6,915.86 L410.5,924.05 L411.44,934.98 L412.43,943.44 L413.5,953.64 L414.38,961.73 L415.31,968.99 L416.26,973.9 L417.2,979.54 L418.11,985.54 L419.01,990.39 L419.93,995.03 L420.9,999.01 L421.69,1001.75 L422.49,1006.18 L423.31,1009.25 L424.21,1011.05 L425.2,1013.47 L425.98,1015.74 L426.8,1017.17 L427.66,1018.47 L428.56,1019.36 L429.49,1020.32 L430.43,1020.89 L431.4,1020.42 L432.16,1022.35 L432.94,1024.43 L433.73,1024.71 L434.54,1024.39 L435.36,1025.35 L436.2,1024.69 L437.05,1023.56 L437.92,1025.63 L438.8,1025.85 L439.61,1027.45 L440.44,1026.56 L441.29,1024.35 L442.15,1025.51 L443.03,1029.13 L443.9,1028.36 L444.78,1026.51 L445.66,1026.72 L446.53,1028.3 L447.4,1028.76 L448.27,1028.25 L449.16,1029.27 L450.06,1028.78 L450.96,1027.35 L451.85,1027.3 L452.73,1028.29 L453.6,1027.6 L454.43,1026.87 L455.24,1024.17 L456,1023.66 L457.02,1024.18 L457.98,1022.62 L458.89,1022.63 L459.76,1021.72 L460.59,1020.7 L461.4,1018.43 L462.2,1019.48 L463.11,1017.72 L463.97,1013.95 L464.81,1011.82 L465.6,1012.56 L466.37,1008.23 L467.1,1005.36 L468.13,1000.88 L469.07,993.9 L469.95,985.65 L470.8,979.67 L471.87,970.65 L472.86,961.04 L473.8,950.53 L474.69,939.57 L475.53,930.1 L476.3,919.45 L477.29,900.23 L478.2,881.65 L479.12,866 L480,855.11 L480.78,846.97 L481.6,844.67 L482.64,849.37 L483.7,855.37 L484.57,863.42 L485.5,873.09 L486.28,884.94 L487.14,900.06 L488,913.15 L488.81,923.22 L489.63,932.8 L490.5,941.51 L491.46,954.98 L492.47,965.65 L493.5,975.18 L494.46,981.27 L495.43,987.94 L496.6,992.81 L497.3,997.87 L498.05,1002.19 L498.86,1002.14 L499.7,1005.45 L500.59,1009.39 L501.5,1009.23 L502.31,1009.59 L503.14,1011.65 L504,1013.55 L504.89,1013.84 L505.8,1015.72 L506.74,1017.12 L507.7,1017.98 L508.47,1018.34 L509.26,1019.17 L510.08,1019 L510.91,1015.96 L511.75,1015.32 L512.59,1014.66 L513.43,1013.9 L514.27,1014.43 L515.1,1014.47 L515.94,1014.48 L516.8,1011.91 L517.68,1010.68 L518.56,1011.4 L519.42,1011.02 L520.26,1010.07 L521.06,1009.53 L521.81,1008.18 L522.5,1008.69 L523.57,1007.57 L524.47,1005.33 L525.27,1003.01 L526.03,1002.15 L526.8,999.26 L527.75,1000.41 L528.65,1003.54 L529.55,1004.31 L530.5,1007.83 L531.29,1010.97 L532.09,1012.28 L532.92,1015.97 L533.82,1019.64 L534.8,1023.44 L535.57,1026.01 L536.37,1027.5 L537.22,1028.45 L538.1,1030.86 L539.01,1033.18 L539.94,1035.81 L540.9,1037.24 L541.66,1037 L542.43,1036.77 L543.23,1038.31 L544.03,1039.06 L544.86,1039.14 L545.7,1040.59 L546.55,1041.18 L547.42,1042.16 L548.3,1043.4 L549.06,1043.06 L549.75,1045.93 L550.4,1044.77 L551.06,1045.42 L551.76,1045.36 L552.52,1046.27 L553.38,1043.35 L554.37,1043.77 L555.54,1045.83 L556.9,1046.94 L557.48,1049.03 L558.1,1047.81 L558.75,1048.01 L559.42,1048.01 L560.13,1048.07 L560.86,1047.8 L561.61,1047 L562.38,1047.5 L563.17,1046.23 L563.98,1047.98 L564.81,1046.78 L565.65,1047.21 L566.5,1049.84 L567.36,1048.31 L568.23,1047.6 L569.11,1049 L569.99,1048.4 L570.87,1047.1 L571.75,1047.93 L572.64,1048.84 L573.52,1049.2 L574.39,1047.78 L575.26,1049.85 L576.12,1050.98 L576.96,1049.29 L577.8,1048.89 L578.58,1048.35 L579.33,1050.05 L580.06,1048.73 L580.76,1049.3 L581.44,1048.79 L582.11,1048.12 L582.77,1049.59 L583.42,1050.94 L584.07,1049.89 L584.73,1048.66 L585.38,1049.99 L586.05,1049.83 L586.73,1049.89 L587.43,1051.4 L588.16,1051.6 L588.9,1049.76 L589.68,1052.03 L590.49,1050.96 L591.34,1050.81 L592.23,1049.72 L593.17,1049.77 L594.16,1048.3 L595.2,1051.3 L596.31,1052.5 L597.47,1049.65 L598.7,1048.23 L600,1048.02 L600.59,1050.92 L601.19,1050.48 L601.81,1050.18 L602.44,1050.11 L603.08,1050.21 L603.74,1049.3 L604.41,1050.04 L605.09,1049.02 L605.78,1049.81 L606.49,1050.84 L607.2,1051.18 L607.93,1050.53 L608.66,1049.52 L609.41,1050.35 L610.16,1050.16 L610.93,1052.03 L611.7,1052.12 L612.48,1050.84 L613.27,1050.08 L614.07,1049.68 L614.88,1049.34 L615.69,1049.85 L616.51,1050.8 L617.33,1051.33 L618.17,1051.49 L619,1053.13 L619.85,1050.88 L620.69,1050.37 L621.55,1053.62 L622.4,1049.98 L623.26,1049.3 L624.13,1050.63 L624.99,1050.93 L625.86,1051.2 L626.74,1050.63 L627.61,1050.98 L628.49,1050.93 L629.37,1051.54 L630.25,1049.07 L631.13,1048.93 L632.01,1050.32 L632.89,1049.64 L633.77,1049.16 L634.65,1050.91 L635.53,1050.33 L636.41,1051.11 L637.29,1051.8 L638.16,1051.39 L639.03,1051.41 L639.9,1050.86 L640.77,1049.22 L641.63,1050.09 L642.49,1051.22 L643.35,1050.41 L644.2,1050.42 L645.04,1051.51 L645.88,1050.19 L646.72,1051.05 L647.55,1053.03 L648.37,1051.04 L649.19,1050.7 L650,1050.71 L650.8,1052.36 L651.6,1051.84 L652.38,1051.9 L653.16,1050.5 L653.93,1050.5 L654.69,1050.82 L655.45,1048.97 L656.2,1051.56 L656.94,1052.44 L657.68,1049.42 L658.42,1050.86 L659.15,1051.06 L659.88,1051.28 L660.6,1051.46 L661.32,1049.47 L662.04,1049.99 L662.75,1052.36 L663.47,1050.96 L664.18,1049.56 L664.9,1049.01 L665.61,1049.01 L666.32,1050.71 L667.03,1052.84 L667.75,1052.13 L668.46,1051.37 L669.18,1053.38 L669.9,1051.39 L670.62,1049.99 L671.35,1051.19 L672.08,1051.76 L672.81,1050.13 L673.55,1049.27 L674.29,1050.74 L675.04,1051.36 L675.8,1049.71 L676.56,1050.18 L677.33,1050.32 L678.1,1051.23 L678.88,1051.08 L679.67,1050.86 L680.47,1050.6 L681.28,1051.96 L682.1,1052.95 L682.93,1051.27 L683.76,1051.76 L684.61,1050.63 L685.47,1050.78 L686.34,1051.88 L687.22,1052.99 L688.12,1051.35 L689.03,1050.83 L689.95,1051.26 L690.89,1049.61 L691.84,1050.45 L692.8,1050.42 L693.78,1051.22 L694.77,1050.12 L695.79,1048.57 L696.81,1050.31 L697.86,1051.47 L698.92,1050.73 L700,1051.89 L700.64,1051.32 L701.3,1050.46 L701.97,1051.45 L702.65,1049.8 L703.35,1049.82 L704.06,1050.92 L704.78,1052.14 L705.51,1051.48 L706.25,1051.53 L707.01,1050.74 L707.77,1051.32 L708.55,1053.19 L709.33,1051.35 L710.13,1053.5 L710.93,1051.73 L711.75,1051.08 L712.57,1051.55 L713.4,1052.52 L714.24,1050.54 L715.09,1048.63 L715.95,1051.1 L716.81,1052.53 L717.68,1052.44 L718.56,1054.48 L719.44,1052.85 L720.33,1051.82 L721.23,1052.57 L722.13,1052.3 L723.04,1053.42 L723.95,1050.96 L724.87,1050.58 L725.79,1047.76 L726.72,1050.86 L727.64,1051.54 L728.58,1052.38 L729.51,1054.27 L730.45,1052.57 L731.39,1051.35 L732.34,1050.99 L733.28,1050.54 L734.23,1050.62 L735.18,1052.06 L736.13,1052.01 L737.08,1051.79 L738.03,1051.56 L738.98,1052.61 L739.94,1052.67 L740.89,1051.83 L741.84,1052.4 L742.79,1051.92 L743.73,1050.52 L744.68,1052.82 L745.62,1052.97 L746.57,1051.04 L747.51,1052.55 L748.44,1052.71 L749.38,1050.39 L750.31,1052.88 L751.23,1052.98 L752.16,1053.01 L753.08,1052.54 L753.99,1051.88 L754.9,1050.27 L755.8,1052.3 L756.7,1052.46 L757.59,1051.71 L758.48,1052.25 L759.36,1052.27 L760.23,1052.78 L761.09,1051.97 L761.95,1051.86 L762.8,1049.81 L763.64,1050.68 L764.48,1052.62 L765.3,1053.82 L766.12,1052.34 L766.93,1051.85 L767.73,1053.76 L768.52,1052.53 L769.29,1052.8 L770.06,1054.28 L770.82,1052.99 L771.57,1053.51 L772.3,1052.02 L773.02,1052.12 L773.74,1052.25 L774.43,1052.33 L775.12,1053.49 L775.8,1055.28 L776.46,1052.65 L777.1,1051.38 L777.74,1052.56 L778.36,1051.42 L778.96,1052.36 L779.55,1053.15 L780.13,1052.3 L780.69,1052.77 L781.23,1050.96 L781.76,1052.45 L782.28,1051.08 L782.77,1050.94 L783.25,1051.48 L783.72,1051.71 L784.16,1053.11 L784.59,1052.87 L785,1052.02" fill="none" stroke="#2c5f93" stroke-width="3.5" stroke-linejoin="round"/>
<path d="M118,1175.61 L118.42,1176.78 L118.88,1178.19 L119.36,1176.92 L119.87,1175.43 L120.41,1176.43 L120.97,1177.62 L121.56,1178.56 L122.17,1176.46 L122.81,1175.39 L123.47,1177.51 L124.16,1178.23 L124.86,1179.29 L125.59,1179.25 L126.33,1177.92 L127.1,1177.32 L127.88,1180.29 L128.67,1178.63 L129.49,1176.89 L130.32,1176.37 L131.16,1177.57 L132.02,1178.25 L132.89,1177.83 L133.77,1177.98 L134.66,1178.53 L135.56,1179.2 L136.47,1179.89 L137.39,1179.22 L138.31,1176.79 L139.24,1178.59 L140.18,1177.56 L141.12,1177.99 L142.07,1177.27 L143.02,1178.31 L143.97,1178.24 L144.92,1179.01 L145.87,1182.77 L146.83,1180.73 L147.78,1180.24 L148.72,1178.44 L149.67,1178.64 L150.61,1180.18 L151.55,1179.9 L152.48,1180.12 L153.4,1180.13 L154.31,1178.92 L155.22,1180.15 L156.12,1179.49 L157.01,1181.77 L157.88,1180.56 L158.75,1180.82 L159.6,1180.71 L160.38,1181.47 L161.17,1180.34 L161.96,1181.39 L162.75,1181.01 L163.54,1182.04 L164.34,1182.07 L165.13,1181.35 L165.93,1180.25 L166.73,1181.54 L167.53,1182 L168.33,1183.18 L169.13,1181.68 L169.94,1181.83 L170.74,1182.28 L171.55,1182.11 L172.36,1182.02 L173.16,1182.04 L173.97,1181.3 L174.79,1180.6 L175.6,1181.15 L176.41,1182.55 L177.22,1184.05 L178.04,1183.99 L178.85,1183.91 L179.67,1183.74 L180.49,1183.62 L181.3,1183.13 L182.12,1183.6 L182.94,1185.01 L183.76,1183.34 L184.58,1182.09 L185.4,1184.79 L186.22,1184.27 L187.04,1184.34 L187.86,1184.65 L188.68,1182.57 L189.5,1185.5 L190.32,1186.49 L191.14,1184.59 L191.96,1184.55 L192.77,1184.23 L193.59,1182.96 L194.41,1183.38 L195.23,1184.31 L196.05,1185.37 L196.87,1185.35 L197.69,1184.54 L198.5,1185.67 L199.32,1184.1 L200.13,1184.83 L200.95,1185.92 L201.76,1184.65 L202.58,1182.49 L203.39,1182.8 L204.2,1184.44 L205.01,1185.31 L205.83,1186.55 L206.66,1184.37 L207.49,1184.32 L208.32,1185.49 L209.16,1184.97 L210,1182.31 L210.85,1184.68 L211.7,1187.73 L212.55,1187.06 L213.41,1184.48 L214.26,1184.17 L215.12,1185.09 L215.99,1187.78 L216.85,1186.85 L217.71,1185.5 L218.58,1186.81 L219.44,1185.76 L220.31,1187.08 L221.17,1185.29 L222.04,1184.38 L222.9,1185.75 L223.76,1187.04 L224.62,1186.56 L225.48,1185.85 L226.34,1183.47 L227.19,1183.69 L228.04,1184.3 L228.89,1184.44 L229.74,1185.66 L230.58,1185.2 L231.42,1185.97 L232.25,1185.74 L233.08,1184.99 L233.9,1185.29 L234.72,1185.82 L235.53,1186.41 L236.34,1185.21 L237.13,1184.87 L237.93,1183.79 L238.71,1186.41 L239.49,1187.58 L240.26,1185.81 L241.03,1184.76 L241.78,1183.84 L242.53,1184.98 L243.26,1185.65 L243.99,1187.74 L244.71,1186.61 L245.42,1184.66 L246.12,1182.46 L246.8,1185.76 L247.48,1186.22 L248.15,1183.79 L248.8,1184.87 L249.87,1183.81 L250.92,1188.36 L251.96,1188.19 L252.97,1186.58 L253.97,1185.57 L254.94,1183.2 L255.9,1184.45 L256.85,1183.89 L257.77,1185.53 L258.68,1183.66 L259.57,1183.75 L260.45,1186.56 L261.31,1187.99 L262.15,1185.24 L262.98,1183.62 L263.79,1186.02 L264.59,1187.09 L265.37,1185.16 L266.14,1184.66 L266.89,1184.79 L267.63,1184.28 L268.36,1184.59 L269.07,1186.84 L269.77,1187.11 L270.46,1188.27 L271.13,1186.61 L271.79,1185.56 L272.44,1184.62 L273.07,1185.09 L273.7,1184.18 L274.31,1183.09 L274.91,1185.41 L275.5,1187.23 L276.82,1186.71 L278.03,1186.71 L279.14,1185.51 L280.15,1183.69 L281.08,1183.75 L281.95,1183.25 L282.74,1181.87 L283.49,1180.51 L284.19,1180.02 L284.86,1181.21 L285.51,1181.56 L286.14,1180.48 L286.77,1181.7 L287.4,1180.73 L288.57,1179.51 L289.55,1179.19 L290.39,1176.09 L291.15,1172.67 L291.87,1173.66 L292.6,1172 L293.4,1172.07 L294.25,1170.44 L295.11,1169.02 L295.97,1167.32 L296.83,1162.51 L297.67,1162.6 L298.49,1161.08 L299.3,1159.4 L300.22,1159.01 L301.14,1160.06 L302.03,1160.65 L302.9,1161.02 L303.72,1158.66 L304.5,1159.13 L305.53,1159.17 L306.45,1162.81 L307.34,1166.77 L308.3,1167.47 L309.09,1169.03 L309.87,1170.47 L310.7,1172.14 L311.62,1171.27 L312.7,1170.96 L313.4,1171.25 L314.17,1174.12 L315,1174.71 L315.86,1173.24 L316.74,1173.11 L317.63,1173.11 L318.49,1173.03 L319.32,1172.41 L320.1,1171.76 L321.04,1170.12 L321.94,1169.57 L322.81,1171.31 L323.66,1170.1 L324.48,1167.92 L325.3,1166.14 L326.1,1164.97 L327.03,1163.43 L327.95,1160.04 L328.84,1157.87 L329.71,1155.93 L330.53,1153.17 L331.3,1151.93 L332.31,1152.7 L333.19,1155.27 L334.05,1160.76 L335,1161.42 L335.8,1164.56 L336.6,1167.76 L337.45,1170.18 L338.4,1173.18 L339.5,1176.23 L340.17,1176.19 L340.86,1175.9 L341.59,1175.58 L342.34,1176.01 L343.14,1177.35 L343.99,1176.39 L344.9,1174.91 L345.86,1174.31 L346.9,1174.27 L347.63,1173.94 L348.42,1176.29 L349.28,1176.47 L350.17,1175.33 L351.1,1176.64 L352.05,1174.95 L353,1175.23 L353.95,1175.64 L354.87,1172.9 L355.77,1171.52 L356.63,1171.84 L357.42,1173.69 L358.15,1174.56 L358.8,1171.69 L360.02,1171.94 L360.94,1170.31 L361.68,1168.4 L362.32,1166.89 L362.99,1165.69 L363.8,1162.84 L364.59,1161.86 L365.4,1160.8 L366.22,1161.3 L367.07,1162.51 L367.93,1162.61 L368.81,1158.32 L369.7,1154.04 L370.52,1153.5 L371.39,1152.21 L372.29,1153.68 L373.19,1152.1 L374.07,1148.63 L374.92,1148.22 L375.7,1146.88 L376.4,1142.63 L377.55,1138.9 L378.48,1135.4 L379.29,1131.14 L380.1,1126.35 L381.18,1118.46 L382.19,1110.7 L383.1,1101.87 L384.24,1088.88 L385.3,1078.39 L386.47,1065.3 L387.6,1049.52 L388.46,1026.2 L389.5,1003.71 L390.33,994.15 L391.31,980.98 L392.32,971.69 L393.2,961.59 L394.15,950.97 L394.96,941.77 L395.7,934.67 L396.6,928.16 L397.5,923.52 L398.28,925.55 L399.14,926.72 L400,929.47 L400.84,935.99 L401.67,940.94 L402.5,948.33 L403.66,963.46 L404.9,981.68 L405.93,993.87 L407.03,1012.16 L408,1031.41 L408.87,1055.02 L409.9,1074.49 L410.63,1080.5 L411.51,1086.96 L412.47,1091.94 L413.42,1097.88 L414.3,1103.58 L415.26,1110.04 L416.14,1117.43 L417.04,1121.93 L418,1124.57 L418.84,1129.47 L419.71,1130.49 L420.61,1131.95 L421.54,1134.27 L422.5,1136.18 L423.33,1137.36 L424.18,1139.97 L425.06,1145.02 L425.94,1145.28 L426.83,1146.44 L427.7,1149.62 L428.53,1151.18 L429.32,1152.27 L430.11,1153.44 L430.94,1151.4 L431.86,1151.99 L432.9,1154.05 L433.61,1155.08 L434.38,1156.2 L435.21,1155.72 L436.07,1154.57 L436.96,1154.45 L437.84,1154.16 L438.71,1154.35 L439.56,1154.79 L440.36,1153.69 L441.1,1152.49 L442.05,1151.8 L442.91,1153.24 L443.71,1153.64 L444.48,1152.72 L445.26,1151.79 L446.09,1151.15 L447,1149.87 L447.78,1150.07 L448.62,1148.59 L449.5,1148.83 L450.39,1148.82 L451.29,1150.29 L452.17,1149.69 L453.01,1149.61 L453.79,1150.22 L454.5,1151.1 L455.58,1148.19 L456.48,1145.57 L457.28,1145.55 L458.06,1142.34 L458.9,1141.08 L459.82,1138.64 L460.76,1136.51 L461.7,1132.59 L462.59,1131.94 L463.4,1129 L464.51,1122.87 L465.46,1120 L466.4,1113.08 L467.37,1107.36 L468.33,1096.31 L469.3,1084.42 L470.32,1074.4 L471.36,1065.38 L472.3,1052.59 L473.44,1031.31 L474.5,1011.55 L475.72,996.21 L476.9,985.93 L477.85,975.74 L478.8,968.67 L479.92,971.51 L481.2,978.59 L482.19,984.31 L483.26,991.65 L484.3,1002.09 L485.28,1021.93 L486.24,1043.57 L487.2,1060.49 L488.11,1075.56 L489.01,1086.57 L490.1,1098.79 L490.89,1106.73 L491.75,1114.13 L492.67,1120.9 L493.63,1127.06 L494.6,1131.08 L495.43,1135.05 L496.28,1138.45 L497.16,1141.42 L498.04,1144.47 L498.93,1147.23 L499.8,1150.5 L500.64,1148.4 L501.45,1151.2 L502.26,1153.25 L503.1,1156.74 L504.01,1157.47 L505,1155.08 L505.73,1156.63 L506.52,1157.06 L507.36,1158.63 L508.21,1157.49 L509.09,1157.86 L509.96,1158.51 L510.81,1158.77 L511.63,1158.5 L512.4,1157.21 L513.33,1159.34 L514.22,1161.16 L515.07,1160.47 L515.91,1159.17 L516.73,1160.2 L517.56,1161.33 L518.4,1160.97 L519.26,1161.06 L520.13,1162.86 L521.01,1161.08 L521.87,1160.81 L522.72,1160.01 L523.53,1161.16 L524.3,1162.31 L525.24,1163.3 L526.06,1165.03 L526.86,1169.49 L527.74,1170.27 L528.8,1171.09 L529.47,1174.43 L530.16,1174.01 L530.89,1172.16 L531.64,1174.57 L532.44,1175.02 L533.29,1177.97 L534.2,1176.87 L535.16,1176.96 L536.2,1176.75 L536.9,1178.38 L537.64,1178.22 L538.4,1178.91 L539.18,1179.16 L539.99,1178.89 L540.83,1180.51 L541.68,1181.28 L542.55,1180.42 L543.44,1179.08 L544.35,1178.53 L545.27,1179.94 L546.2,1182.86 L547.15,1180.94 L548.1,1179.47 L548.85,1179.55 L549.62,1179.32 L550.41,1179.42 L551.21,1180.44 L552.02,1182.67 L552.85,1182.07 L553.68,1181.06 L554.52,1179.84 L555.37,1181.44 L556.22,1182.19 L557.07,1181 L557.93,1180.78 L558.78,1182.12 L559.64,1183.87 L560.49,1184.12 L561.33,1183.67 L562.17,1183.09 L563,1183.69 L563.81,1183.79 L564.61,1186.1 L565.39,1183.77 L566.15,1183.25 L566.91,1185.47 L567.67,1184.76 L568.42,1186.01 L569.18,1185.39 L569.94,1185.08 L570.72,1184.78 L571.51,1183.64 L572.32,1183.77 L573.16,1187.44 L574.02,1187.37 L574.91,1186.76 L575.83,1187.23 L576.79,1187.11 L577.8,1187.53 L578.48,1186.46 L579.14,1185.99 L579.79,1187.35 L580.43,1186.55 L581.07,1184.99 L581.7,1185.77 L582.34,1185.99 L582.98,1187.12 L583.62,1186.3 L584.28,1185.39 L584.95,1186.06 L585.63,1188.41 L586.34,1187.63 L587.07,1187.18 L587.82,1187.16 L588.6,1187.44 L589.42,1188.27 L590.27,1189.09 L591.15,1186.16 L592.08,1187.99 L593.06,1187.95 L594.08,1187.05 L595.15,1189.8 L596.27,1188.37 L597.45,1189.48 L598.7,1189.45 L600,1186.95 L600.59,1187.67 L601.19,1188.63 L601.81,1187.86 L602.44,1185.18 L603.08,1186.29 L603.74,1187.36 L604.41,1186.48 L605.09,1189.17 L605.78,1188.33 L606.49,1187.26 L607.2,1187.31 L607.93,1186.86 L608.66,1186.67 L609.41,1187.61 L610.16,1188.25 L610.93,1187.5 L611.7,1187.59 L612.48,1186.43 L613.27,1187.86 L614.07,1187.41 L614.88,1187.86 L615.69,1187.14 L616.51,1187.06 L617.33,1188.02 L618.17,1186.87 L619,1190.11 L619.85,1189.15 L620.69,1188 L621.55,1187.3 L622.4,1189.47 L623.26,1190.31 L624.13,1189.09 L624.99,1186.87 L625.86,1187.04 L626.74,1188.62 L627.61,1187.95 L628.49,1186.76 L629.37,1186.47 L630.25,1186.92 L631.13,1187.94 L632.01,1187.62 L632.89,1188.03 L633.77,1191.26 L634.65,1191.45 L635.53,1188.06 L636.41,1188.26 L637.29,1188.63 L638.16,1188.29 L639.03,1189.44 L639.9,1188.55 L640.77,1187.95 L641.63,1187.91 L642.49,1188.2 L643.35,1189.79 L644.2,1189.89 L645.04,1187.45 L645.88,1187.46 L646.72,1187.51 L647.55,1189.05 L648.37,1189.17 L649.19,1189.62 L650,1188.94 L650.8,1186.58 L651.6,1188.24 L652.38,1189.08 L653.16,1189.29 L653.93,1187.53 L654.69,1188.18 L655.45,1188.01 L656.2,1187.67 L656.94,1188.78 L657.68,1189.25 L658.42,1187.96 L659.15,1186.55 L659.88,1185.39 L660.6,1187.05 L661.32,1189.7 L662.04,1189.23 L662.75,1186.41 L663.47,1186.89 L664.18,1188.87 L664.9,1190.77 L665.61,1190.81 L666.32,1189.75 L667.03,1189.22 L667.75,1187.84 L668.46,1187.92 L669.18,1188.32 L669.9,1187.92 L670.62,1188.61 L671.35,1188.52 L672.08,1189.09 L672.81,1190.58 L673.55,1190.36 L674.29,1189.72 L675.04,1188.89 L675.8,1187.26 L676.56,1188.17 L677.33,1189.51 L678.1,1188.18 L678.88,1189.87 L679.67,1189.23 L680.47,1189.27 L681.28,1188.87 L682.1,1187.59 L682.93,1190.68 L683.76,1188.8 L684.61,1189.54 L685.47,1188.94 L686.34,1189.17 L687.22,1188.42 L688.12,1188.36 L689.03,1189.96 L689.95,1191.65 L690.89,1189.2 L691.84,1188.86 L692.8,1190.25 L693.78,1189.03 L694.77,1189.75 L695.79,1188.8 L696.81,1189.61 L697.86,1190.08 L698.92,1190.85 L700,1190.33 L700.64,1188.33 L701.3,1189.59 L701.97,1188.59 L702.65,1189.75 L703.35,1191.4 L704.06,1190.8 L704.78,1189.2 L705.51,1190.53 L706.25,1190.26 L707.01,1188.33 L707.77,1188.65 L708.55,1190.93 L709.33,1189.94 L710.13,1189.63 L710.93,1189.35 L711.75,1187.75 L712.57,1188.4 L713.4,1189.86 L714.24,1190.12 L715.09,1189.67 L715.95,1187.46 L716.81,1190.13 L717.68,1191.13 L718.56,1191.25 L719.44,1191.7 L720.33,1190.01 L721.23,1189.08 L722.13,1190 L723.04,1191.86 L723.95,1188.97 L724.87,1189.01 L725.79,1189.18 L726.72,1190.32 L727.64,1191.87 L728.58,1190.45 L729.51,1188.69 L730.45,1189.65 L731.39,1189.9 L732.34,1188.45 L733.28,1190.46 L734.23,1190.1 L735.18,1190.76 L736.13,1189.23 L737.08,1190.88 L738.03,1189.33 L738.98,1190.83 L739.94,1188.97 L740.89,1191.06 L741.84,1190.68 L742.79,1188.67 L743.73,1189.55 L744.68,1190.77 L745.62,1189.66 L746.57,1189.61 L747.51,1190.66 L748.44,1190.57 L749.38,1187.36 L750.31,1188.84 L751.23,1190.95 L752.16,1191.23 L753.08,1191.94 L753.99,1190.5 L754.9,1193.17 L755.8,1192.81 L756.7,1191.53 L757.59,1192.15 L758.48,1192.38 L759.36,1191.45 L760.23,1190.33 L761.09,1191.76 L761.95,1191.89 L762.8,1189.21 L763.64,1189.02 L764.48,1191.05 L765.3,1191.4 L766.12,1191.44 L766.93,1191.92 L767.73,1191.58 L768.52,1192.89 L769.29,1191.28 L770.06,1190.52 L770.82,1191.38 L771.57,1192.17 L772.3,1192.43 L773.02,1193.2 L773.74,1191.47 L774.43,1192.33 L775.12,1192.35 L775.8,1190.47 L776.46,1190.76 L777.1,1193.52 L777.74,1193.17 L778.36,1191.29 L778.96,1188.71 L779.55,1189.61 L780.13,1190.4 L780.69,1191.25 L781.23,1193.96 L781.76,1193.34 L782.28,1192.19 L782.77,1190.7 L783.25,1189.89 L783.72,1190.81 L784.16,1190.99 L784.59,1194.54 L785,1192.53" fill="none" stroke="#ec0000" stroke-width="3.5" stroke-linejoin="round"/>
<line x1="301.3" y1="1012.9" x2="301.3" y2="1230.6" stroke="#000" stroke-width="3" stroke-dasharray="10.5 15.3"/>
<line x1="331.4" y1="1011" x2="331.4" y2="1230.6" stroke="#000" stroke-width="3" stroke-dasharray="10.5 15.3"/>
<line x1="398.5" y1="831.5" x2="398.5" y2="1230.6" stroke="#000" stroke-width="3" stroke-dasharray="10.5 15.3"/>
<line x1="480.9" y1="833" x2="480.9" y2="1230.6" stroke="#000" stroke-width="3" stroke-dasharray="10.5 15.3"/>
<rect x="479.3" y="815.5" width="3.6" height="2.6" fill="#000"/>
<rect x="117.5" y="692.6" width="668" height="538" fill="none" stroke="#000" stroke-width="3"/>
<line x1="117.5" y1="1230.6" x2="117.5" y2="1236.1" stroke="#000" stroke-width="3"/>
<line x1="191.72" y1="1230.6" x2="191.72" y2="1240.6" stroke="#000" stroke-width="3"/>
<text x="192.22" y="1272.2" font-family='"Liberation Sans", Arial, Helvetica, sans-serif' font-size="30.5" font-weight="normal" fill="#000" text-anchor="middle" >200</text>
<line x1="265.94" y1="1230.6" x2="265.94" y2="1236.1" stroke="#000" stroke-width="3"/>
<line x1="340.17" y1="1230.6" x2="340.17" y2="1240.6" stroke="#000" stroke-width="3"/>
<text x="340.67" y="1272.2" font-family='"Liberation Sans", Arial, Helvetica, sans-serif' font-size="30.5" font-weight="normal" fill="#000" text-anchor="middle" >400</text>
<line x1="414.39" y1="1230.6" x2="414.39" y2="1236.1" stroke="#000" stroke-width="3"/>
<line x1="488.61" y1="1230.6" x2="488.61" y2="1240.6" stroke="#000" stroke-width="3"/>
<text x="489.11" y="1272.2" font-family='"Liberation Sans", Arial, Helvetica, sans-serif' font-size="30.5" font-weight="normal" fill="#000" text-anchor="middle" >600</text>
<line x1="562.83" y1="1230.6" x2="562.83" y2="1236.1" stroke="#000" stroke-width="3"/>
<line x1="637.06" y1="1230.6" x2="637.06" y2="1240.6" stroke="#000" stroke-width="3"/>
<text x="637.56" y="1272.2" font-family='"Liberation Sans", Arial, Helvetica, sans-serif' font-size="30.5" font-weight="normal" fill="#000" text-anchor="middle" >800</text>
<line x1="711.28" y1="1230.6" x2="711.28" y2="1236.1" stroke="#000" stroke-width="3"/>
<line x1="785.5" y1="1230.6" x2="785.5" y2="1240.6" stroke="#000" stroke-width="3"/>
<text x="786" y="1272.2" font-family='"Liberation Sans", Arial, Helvetica, sans-serif' font-size="30.5" font-weight="normal" fill="#000" text-anchor="middle" >1000</text>
<text x="302.3" y="1331.2" font-family='"Liberation Sans", Arial, Helvetica, sans-serif' font-size="36" textLength="298" lengthAdjust="spacingAndGlyphs">Raman Shift (cm<tspan dy="-14.7" font-size="23">-1</tspan><tspan dy="14.7">)</tspan></text>
<text transform="translate(93.2,957.3) rotate(-90)" x="0" y="0" font-family='"Liberation Sans", Arial, Helvetica, sans-serif' font-size="37" text-anchor="middle" textLength="442.5" lengthAdjust="spacingAndGlyphs">Relative intensity (arb. units)</text>
<line x1="125.2" y1="717.8" x2="185.1" y2="717.8" stroke="#ec0000" stroke-width="3.6"/>
<line x1="125.2" y1="760" x2="185.1" y2="760" stroke="#2c5f93" stroke-width="3.6"/>
<text x="193" y="726.6" font-family='"Liberation Sans", Arial, Helvetica, sans-serif' font-size="29" textLength="264.5" lengthAdjust="spacingAndGlyphs"><tspan>P2-Na</tspan><tspan dy="8.2" font-size="19.5">2/3</tspan><tspan dy="-8.2">Ni</tspan><tspan dy="8.2" font-size="19.5">1/3</tspan><tspan dy="-8.2">Mn</tspan><tspan dy="8.2" font-size="19.5">2/3</tspan><tspan dy="-8.2">O</tspan><tspan dy="8.2" font-size="19.5">2</tspan></text>
<text x="193" y="769" font-family='"Liberation Sans", Arial, Helvetica, sans-serif' font-size="29" textLength="264.5" lengthAdjust="spacingAndGlyphs"><tspan>P2-Na</tspan><tspan dy="8.2" font-size="19.5">2/3</tspan><tspan dy="-8.2">Ni</tspan><tspan dy="8.2" font-size="19.5">0.3</tspan><tspan dy="-8.2">Mn</tspan><tspan dy="8.2" font-size="19.5">0.7</tspan><tspan dy="-8.2">O</tspan><tspan dy="8.2" font-size="19.5">2</tspan></text>
<text x="401.6" y="818.1" font-family='"Liberation Sans", Arial, Helvetica, sans-serif' font-size="31.5">E<tspan dy="8.2" font-size="21.5">2g</tspan></text>
<text x="489" y="818.5" font-family='"Liberation Sans", Arial, Helvetica, sans-serif' font-size="31.5">A<tspan dy="8" font-size="21.5">1g</tspan></text>
<text x="-1" y="710" font-family='"Liberation Sans", Arial, Helvetica, sans-serif' font-size="39.5" font-weight="bold" fill="#000" text-anchor="start" >c</text>
<defs><radialGradient id="ballR" cx="0.5" cy="0.5" r="0.55" fx="0.36" fy="0.33"><stop offset="0" stop-color="#ffffff"/><stop offset="0.16" stop-color="#fff4f4"/><stop offset="0.42" stop-color="#ff1010"/><stop offset="1" stop-color="#f00000"/></radialGradient><radialGradient id="ballB" cx="0.5" cy="0.5" r="0.55" fx="0.36" fy="0.33"><stop offset="0" stop-color="#ffffff"/><stop offset="0.16" stop-color="#eef3f8"/><stop offset="0.45" stop-color="#3a6b9c"/><stop offset="1" stop-color="#336598"/></radialGradient><clipPath id="clipD"><rect x="981.4" y="695.6" width="648.8" height="535.7"/></clipPath></defs>
<g clip-path="url(#clipD)">
<circle cx="1011.86" cy="733" r="7.1" fill="rgba(255,255,255,0.7)" stroke="#ff3b3b" stroke-width="2.5"/>
<circle cx="1027.31" cy="776.4" r="7.1" fill="rgba(255,255,255,0.7)" stroke="#ff3b3b" stroke-width="2.5"/>
<circle cx="1042.77" cy="773" r="7.1" fill="rgba(255,255,255,0.7)" stroke="#ff3b3b" stroke-width="2.5"/>
<circle cx="1058.23" cy="771.5" r="7.1" fill="rgba(255,255,255,0.7)" stroke="#ff3b3b" stroke-width="2.5"/>
<circle cx="1073.68" cy="771.5" r="7.1" fill="rgba(255,255,255,0.7)" stroke="#ff3b3b" stroke-width="2.5"/>
<circle cx="1089.14" cy="780.6" r="7.1" fill="rgba(255,255,255,0.7)" stroke="#ff3b3b" stroke-width="2.5"/>
<circle cx="1104.6" cy="768.9" r="7.1" fill="rgba(255,255,255,0.7)" stroke="#ff3b3b" stroke-width="2.5"/>
<circle cx="1120.06" cy="767.7" r="7.1" fill="rgba(255,255,255,0.7)" stroke="#ff3b3b" stroke-width="2.5"/>
<circle cx="1135.51" cy="768.3" r="7.1" fill="rgba(255,255,255,0.7)" stroke="#ff3b3b" stroke-width="2.5"/>
<circle cx="1150.97" cy="768.9" r="7.1" fill="rgba(255,255,255,0.7)" stroke="#ff3b3b" stroke-width="2.5"/>
<circle cx="1166.43" cy="775.8" r="7.1" fill="rgba(255,255,255,0.7)" stroke="#ff3b3b" stroke-width="2.5"/>
<circle cx="1181.88" cy="765.1" r="7.1" fill="rgba(255,255,255,0.7)" stroke="#ff3b3b" stroke-width="2.5"/>
<circle cx="1197.34" cy="767.4" r="7.1" fill="rgba(255,255,255,0.7)" stroke="#ff3b3b" stroke-width="2.5"/>
<circle cx="1212.8" cy="766.4" r="7.1" fill="rgba(255,255,255,0.7)" stroke="#ff3b3b" stroke-width="2.5"/>
<circle cx="1228.26" cy="766.4" r="7.1" fill="rgba(255,255,255,0.7)" stroke="#ff3b3b" stroke-width="2.5"/>
<circle cx="1243.71" cy="781" r="7.1" fill="rgba(255,255,255,0.7)" stroke="#ff3b3b" stroke-width="2.5"/>
<circle cx="1259.17" cy="765.5" r="7.1" fill="rgba(255,255,255,0.7)" stroke="#ff3b3b" stroke-width="2.5"/>
<circle cx="1274.63" cy="767" r="7.1" fill="rgba(255,255,255,0.7)" stroke="#ff3b3b" stroke-width="2.5"/>
<circle cx="1290.08" cy="766.4" r="7.1" fill="rgba(255,255,255,0.7)" stroke="#ff3b3b" stroke-width="2.5"/>
<circle cx="1305.54" cy="765.5" r="7.1" fill="rgba(255,255,255,0.7)" stroke="#ff3b3b" stroke-width="2.5"/>
<circle cx="1321" cy="791" r="7.1" fill="rgba(255,255,255,0.7)" stroke="#ff3b3b" stroke-width="2.5"/>
<circle cx="1336.45" cy="761.7" r="7.1" fill="rgba(255,255,255,0.7)" stroke="#ff3b3b" stroke-width="2.5"/>
<circle cx="1351.91" cy="770.2" r="7.1" fill="rgba(255,255,255,0.7)" stroke="#ff3b3b" stroke-width="2.5"/>
<circle cx="1367.37" cy="764" r="7.1" fill="rgba(255,255,255,0.7)" stroke="#ff3b3b" stroke-width="2.5"/>
<circle cx="1382.83" cy="770.2" r="7.1" fill="rgba(255,255,255,0.7)" stroke="#ff3b3b" stroke-width="2.5"/>
<circle cx="1398.28" cy="770.2" r="7.1" fill="rgba(255,255,255,0.7)" stroke="#ff3b3b" stroke-width="2.5"/>
<circle cx="1413.74" cy="767.4" r="7.1" fill="rgba(255,255,255,0.7)" stroke="#ff3b3b" stroke-width="2.5"/>
<circle cx="1429.2" cy="767.4" r="7.1" fill="rgba(255,255,255,0.7)" stroke="#ff3b3b" stroke-width="2.5"/>
<circle cx="1444.65" cy="770.2" r="7.1" fill="rgba(255,255,255,0.7)" stroke="#ff3b3b" stroke-width="2.5"/>
<circle cx="1460.11" cy="763.2" r="7.1" fill="rgba(255,255,255,0.7)" stroke="#ff3b3b" stroke-width="2.5"/>
<circle cx="1475.57" cy="792.3" r="7.1" fill="rgba(255,255,255,0.7)" stroke="#ff3b3b" stroke-width="2.5"/>
<circle cx="1491.02" cy="767.7" r="7.1" fill="rgba(255,255,255,0.7)" stroke="#ff3b3b" stroke-width="2.5"/>
<circle cx="1506.48" cy="768.9" r="7.1" fill="rgba(255,255,255,0.7)" stroke="#ff3b3b" stroke-width="2.5"/>
<circle cx="1521.94" cy="769.2" r="7.1" fill="rgba(255,255,255,0.7)" stroke="#ff3b3b" stroke-width="2.5"/>
<circle cx="1537.39" cy="765.8" r="7.1" fill="rgba(255,255,255,0.7)" stroke="#ff3b3b" stroke-width="2.5"/>
<circle cx="1568.31" cy="768.3" r="7.1" fill="rgba(255,255,255,0.7)" stroke="#ff3b3b" stroke-width="2.5"/>
<circle cx="1583.77" cy="768.9" r="7.1" fill="rgba(255,255,255,0.7)" stroke="#ff3b3b" stroke-width="2.5"/>
<circle cx="1599.22" cy="769.2" r="7.1" fill="rgba(255,255,255,0.7)" stroke="#ff3b3b" stroke-width="2.5"/>
<circle cx="1614.68" cy="769.6" r="7.1" fill="rgba(255,255,255,0.7)" stroke="#ff3b3b" stroke-width="2.5"/>
<circle cx="1011.86" cy="707" r="7.1" fill="rgba(255,255,255,0.7)" stroke="#5f89b4" stroke-width="2.5"/>
<circle cx="1027.31" cy="785.3" r="7.1" fill="rgba(255,255,255,0.7)" stroke="#5f89b4" stroke-width="2.5"/>
<circle cx="1042.77" cy="781" r="7.1" fill="rgba(255,255,255,0.7)" stroke="#5f89b4" stroke-width="2.5"/>
<circle cx="1058.23" cy="782" r="7.1" fill="rgba(255,255,255,0.7)" stroke="#5f89b4" stroke-width="2.5"/>
<circle cx="1073.68" cy="785.3" r="7.1" fill="rgba(255,255,255,0.7)" stroke="#5f89b4" stroke-width="2.5"/>
<circle cx="1089.14" cy="792.8" r="7.1" fill="rgba(255,255,255,0.7)" stroke="#5f89b4" stroke-width="2.5"/>
<circle cx="1104.6" cy="777.2" r="7.1" fill="rgba(255,255,255,0.7)" stroke="#5f89b4" stroke-width="2.5"/>
<circle cx="1120.06" cy="778.3" r="7.1" fill="rgba(255,255,255,0.7)" stroke="#5f89b4" stroke-width="2.5"/>
<circle cx="1135.51" cy="780.6" r="7.1" fill="rgba(255,255,255,0.7)" stroke="#5f89b4" stroke-width="2.5"/>
<circle cx="1150.97" cy="781.5" r="7.1" fill="rgba(255,255,255,0.7)" stroke="#5f89b4" stroke-width="2.5"/>
<circle cx="1166.43" cy="807.9" r="7.1" fill="rgba(255,255,255,0.7)" stroke="#5f89b4" stroke-width="2.5"/>
<circle cx="1181.88" cy="778.3" r="7.1" fill="rgba(255,255,255,0.7)" stroke="#5f89b4" stroke-width="2.5"/>
<circle cx="1197.34" cy="779.6" r="7.1" fill="rgba(255,255,255,0.7)" stroke="#5f89b4" stroke-width="2.5"/>
<circle cx="1212.8" cy="786.6" r="7.1" fill="rgba(255,255,255,0.7)" stroke="#5f89b4" stroke-width="2.5"/>
<circle cx="1228.26" cy="785.8" r="7.1" fill="rgba(255,255,255,0.7)" stroke="#5f89b4" stroke-width="2.5"/>
<circle cx="1243.71" cy="817.9" r="7.1" fill="rgba(255,255,255,0.7)" stroke="#5f89b4" stroke-width="2.5"/>
<circle cx="1259.17" cy="791.5" r="7.1" fill="rgba(255,255,255,0.7)" stroke="#5f89b4" stroke-width="2.5"/>
<circle cx="1274.63" cy="787.7" r="7.1" fill="rgba(255,255,255,0.7)" stroke="#5f89b4" stroke-width="2.5"/>
<circle cx="1290.08" cy="787.2" r="7.1" fill="rgba(255,255,255,0.7)" stroke="#5f89b4" stroke-width="2.5"/>
<circle cx="1305.54" cy="792.8" r="7.1" fill="rgba(255,255,255,0.7)" stroke="#5f89b4" stroke-width="2.5"/>
<circle cx="1321" cy="830" r="7.1" fill="rgba(255,255,255,0.7)" stroke="#5f89b4" stroke-width="2.5"/>
<circle cx="1336.45" cy="798.5" r="7.1" fill="rgba(255,255,255,0.7)" stroke="#5f89b4" stroke-width="2.5"/>
<circle cx="1351.91" cy="796.6" r="7.1" fill="rgba(255,255,255,0.7)" stroke="#5f89b4" stroke-width="2.5"/>
<circle cx="1367.37" cy="801.3" r="7.1" fill="rgba(255,255,255,0.7)" stroke="#5f89b4" stroke-width="2.5"/>
<circle cx="1382.83" cy="800.4" r="7.1" fill="rgba(255,255,255,0.7)" stroke="#5f89b4" stroke-width="2.5"/>
<circle cx="1398.28" cy="832.5" r="7.1" fill="rgba(255,255,255,0.7)" stroke="#5f89b4" stroke-width="2.5"/>
<circle cx="1413.74" cy="820.2" r="7.1" fill="rgba(255,255,255,0.7)" stroke="#5f89b4" stroke-width="2.5"/>
<circle cx="1429.2" cy="822.5" r="7.1" fill="rgba(255,255,255,0.7)" stroke="#5f89b4" stroke-width="2.5"/>
<circle cx="1444.65" cy="825.8" r="7.1" fill="rgba(255,255,255,0.7)" stroke="#5f89b4" stroke-width="2.5"/>
<circle cx="1460.11" cy="819.2" r="7.1" fill="rgba(255,255,255,0.7)" stroke="#5f89b4" stroke-width="2.5"/>
<circle cx="1475.57" cy="1230.5" r="7.1" fill="rgba(255,255,255,0.7)" stroke="#5f89b4" stroke-width="2.5"/>
<circle cx="1491.02" cy="1230.5" r="7.1" fill="rgba(255,255,255,0.7)" stroke="#5f89b4" stroke-width="2.5"/>
<circle cx="1506.48" cy="1230.5" r="7.1" fill="rgba(255,255,255,0.7)" stroke="#5f89b4" stroke-width="2.5"/>
<circle cx="1521.94" cy="1230.5" r="7.1" fill="rgba(255,255,255,0.7)" stroke="#5f89b4" stroke-width="2.5"/>
<circle cx="1537.39" cy="1230.5" r="7.1" fill="rgba(255,255,255,0.7)" stroke="#5f89b4" stroke-width="2.5"/>
<circle cx="1552.85" cy="743.2" r="7.1" fill="rgba(255,255,255,0.7)" stroke="#5f89b4" stroke-width="2.5"/>
<circle cx="1568.31" cy="799.8" r="7.1" fill="rgba(255,255,255,0.7)" stroke="#5f89b4" stroke-width="2.5"/>
<circle cx="1583.77" cy="795.7" r="7.1" fill="rgba(255,255,255,0.7)" stroke="#5f89b4" stroke-width="2.5"/>
<circle cx="1599.22" cy="796.6" r="7.1" fill="rgba(255,255,255,0.7)" stroke="#5f89b4" stroke-width="2.5"/>
<circle cx="1614.68" cy="796" r="7.1" fill="rgba(255,255,255,0.7)" stroke="#5f89b4" stroke-width="2.5"/>
<circle cx="1011.86" cy="922.8" r="9.2" fill="url(#ballR)"/>
<circle cx="1027.31" cy="922.5" r="9.2" fill="url(#ballR)"/>
<circle cx="1042.77" cy="923" r="9.2" fill="url(#ballR)"/>
<circle cx="1058.23" cy="925.5" r="9.2" fill="url(#ballR)"/>
<circle cx="1073.68" cy="927.5" r="9.2" fill="url(#ballR)"/>
<circle cx="1089.14" cy="931.3" r="9.2" fill="url(#ballR)"/>
<circle cx="1104.6" cy="931.3" r="9.2" fill="url(#ballR)"/>
<circle cx="1120.06" cy="931.5" r="9.2" fill="url(#ballR)"/>
<circle cx="1135.51" cy="931.6" r="9.2" fill="url(#ballR)"/>
<circle cx="1150.97" cy="931.8" r="9.2" fill="url(#ballR)"/>
<circle cx="1166.43" cy="941.3" r="9.2" fill="url(#ballR)"/>
<circle cx="1181.88" cy="941.3" r="9.2" fill="url(#ballR)"/>
<circle cx="1197.34" cy="941.5" r="9.2" fill="url(#ballR)"/>
<circle cx="1212.8" cy="941.3" r="9.2" fill="url(#ballR)"/>
<circle cx="1228.26" cy="941.3" r="9.2" fill="url(#ballR)"/>
<circle cx="1243.71" cy="950.8" r="9.2" fill="url(#ballR)"/>
<circle cx="1259.17" cy="950.5" r="9.2" fill="url(#ballR)"/>
<circle cx="1274.63" cy="950.8" r="9.2" fill="url(#ballR)"/>
<circle cx="1290.08" cy="950.8" r="9.2" fill="url(#ballR)"/>
<circle cx="1305.54" cy="950.5" r="9.2" fill="url(#ballR)"/>
<circle cx="1321" cy="966.9" r="9.2" fill="url(#ballR)"/>
<circle cx="1336.45" cy="964.9" r="9.2" fill="url(#ballR)"/>
<circle cx="1351.91" cy="966.9" r="9.2" fill="url(#ballR)"/>
<circle cx="1367.37" cy="965.5" r="9.2" fill="url(#ballR)"/>
<circle cx="1382.83" cy="966.9" r="9.2" fill="url(#ballR)"/>
<circle cx="1398.28" cy="970.8" r="9.2" fill="url(#ballR)"/>
<circle cx="1413.74" cy="970.2" r="9.2" fill="url(#ballR)"/>
<circle cx="1429.2" cy="971.3" r="9.2" fill="url(#ballR)"/>
<circle cx="1444.65" cy="970.8" r="9.2" fill="url(#ballR)"/>
<circle cx="1460.11" cy="971.3" r="9.2" fill="url(#ballR)"/>
<circle cx="1475.57" cy="991.2" r="9.2" fill="url(#ballR)"/>
<circle cx="1491.02" cy="991.2" r="9.2" fill="url(#ballR)"/>
<circle cx="1506.48" cy="988.8" r="9.2" fill="url(#ballR)"/>
<circle cx="1521.94" cy="992.1" r="9.2" fill="url(#ballR)"/>
<circle cx="1537.39" cy="993" r="9.2" fill="url(#ballR)"/>
<circle cx="1552.85" cy="932.8" r="9.2" fill="url(#ballR)"/>
<circle cx="1568.31" cy="935" r="9.2" fill="url(#ballR)"/>
<circle cx="1583.77" cy="935.5" r="9.2" fill="url(#ballR)"/>
<circle cx="1599.22" cy="935.5" r="9.2" fill="url(#ballR)"/>
<circle cx="1614.68" cy="935.8" r="9.2" fill="url(#ballR)"/>
<circle cx="1011.86" cy="925.2" r="9.2" fill="url(#ballB)"/>
<circle cx="1027.31" cy="925.2" r="9.2" fill="url(#ballB)"/>
<circle cx="1042.77" cy="924.7" r="9.2" fill="url(#ballB)"/>
<circle cx="1058.23" cy="926.1" r="9.2" fill="url(#ballB)"/>
<circle cx="1073.68" cy="927.6" r="9.2" fill="url(#ballB)"/>
<circle cx="1089.14" cy="941" r="9.2" fill="url(#ballB)"/>
<circle cx="1104.6" cy="940.8" r="9.2" fill="url(#ballB)"/>
<circle cx="1120.06" cy="941.5" r="9.2" fill="url(#ballB)"/>
<circle cx="1135.51" cy="942.5" r="9.2" fill="url(#ballB)"/>
<circle cx="1150.97" cy="942.2" r="9.2" fill="url(#ballB)"/>
<circle cx="1166.43" cy="962" r="9.2" fill="url(#ballB)"/>
<circle cx="1181.88" cy="961.5" r="9.2" fill="url(#ballB)"/>
<circle cx="1197.34" cy="960" r="9.2" fill="url(#ballB)"/>
<circle cx="1212.8" cy="961.8" r="9.2" fill="url(#ballB)"/>
<circle cx="1228.26" cy="961.8" r="9.2" fill="url(#ballB)"/>
<circle cx="1243.71" cy="991.1" r="9.2" fill="url(#ballB)"/>
<circle cx="1259.17" cy="992.6" r="9.2" fill="url(#ballB)"/>
<circle cx="1274.63" cy="993.8" r="9.2" fill="url(#ballB)"/>
<circle cx="1290.08" cy="992" r="9.2" fill="url(#ballB)"/>
<circle cx="1305.54" cy="993.3" r="9.2" fill="url(#ballB)"/>
<circle cx="1321" cy="1053.3" r="9.2" fill="url(#ballB)"/>
<circle cx="1336.45" cy="1052.4" r="9.2" fill="url(#ballB)"/>
<circle cx="1351.91" cy="1051" r="9.2" fill="url(#ballB)"/>
<circle cx="1367.37" cy="1053.3" r="9.2" fill="url(#ballB)"/>
<circle cx="1382.83" cy="1053.3" r="9.2" fill="url(#ballB)"/>
<circle cx="1398.28" cy="1100.5" r="9.2" fill="url(#ballB)"/>
<circle cx="1413.74" cy="1099" r="9.2" fill="url(#ballB)"/>
<circle cx="1429.2" cy="1101" r="9.2" fill="url(#ballB)"/>
<circle cx="1444.65" cy="1101.8" r="9.2" fill="url(#ballB)"/>
<circle cx="1460.11" cy="1100.3" r="9.2" fill="url(#ballB)"/>
<circle cx="1475.57" cy="1205.3" r="9.2" fill="url(#ballB)"/>
<circle cx="1491.02" cy="1203" r="9.2" fill="url(#ballB)"/>
<circle cx="1506.48" cy="1205.5" r="9.2" fill="url(#ballB)"/>
<circle cx="1521.94" cy="1202.5" r="9.2" fill="url(#ballB)"/>
<circle cx="1537.39" cy="1203.4" r="9.2" fill="url(#ballB)"/>
<circle cx="1552.85" cy="921.2" r="9.2" fill="url(#ballB)"/>
<circle cx="1568.31" cy="926.6" r="9.2" fill="url(#ballB)"/>
<circle cx="1583.77" cy="929.3" r="9.2" fill="url(#ballB)"/>
<circle cx="1599.22" cy="933.3" r="9.2" fill="url(#ballB)"/>
<circle cx="1614.68" cy="935.8" r="9.2" fill="url(#ballB)"/>
</g>
<rect x="981.4" y="695.6" width="648.8" height="535.7" fill="none" stroke="#000" stroke-width="3"/>
<line x1="971.9" y1="1215.8" x2="981.4" y2="1215.8" stroke="#000" stroke-width="3"/>
<text x="966" y="1226.1" font-family='"Liberation Sans", Arial, Helvetica, sans-serif' font-size="35" font-weight="normal" fill="#000" text-anchor="end" >0</text>
<line x1="976.4" y1="1166.98" x2="981.4" y2="1166.98" stroke="#000" stroke-width="3"/>
<line x1="971.9" y1="1118.16" x2="981.4" y2="1118.16" stroke="#000" stroke-width="3"/>
<text x="966" y="1128.46" font-family='"Liberation Sans", Arial, Helvetica, sans-serif' font-size="35" font-weight="normal" fill="#000" text-anchor="end" >30</text>
<line x1="976.4" y1="1069.34" x2="981.4" y2="1069.34" stroke="#000" stroke-width="3"/>
<line x1="971.9" y1="1020.52" x2="981.4" y2="1020.52" stroke="#000" stroke-width="3"/>
<text x="966" y="1030.82" font-family='"Liberation Sans", Arial, Helvetica, sans-serif' font-size="35" font-weight="normal" fill="#000" text-anchor="end" >60</text>
<line x1="976.4" y1="971.7" x2="981.4" y2="971.7" stroke="#000" stroke-width="3"/>
<line x1="971.9" y1="922.88" x2="981.4" y2="922.88" stroke="#000" stroke-width="3"/>
<text x="966" y="933.18" font-family='"Liberation Sans", Arial, Helvetica, sans-serif' font-size="35" font-weight="normal" fill="#000" text-anchor="end" >90</text>
<line x1="976.4" y1="874.06" x2="981.4" y2="874.06" stroke="#000" stroke-width="3"/>
<line x1="971.9" y1="825.24" x2="981.4" y2="825.24" stroke="#000" stroke-width="3"/>
<text x="966" y="835.54" font-family='"Liberation Sans", Arial, Helvetica, sans-serif' font-size="35" font-weight="normal" fill="#000" text-anchor="end" >120</text>
<line x1="976.4" y1="776.42" x2="981.4" y2="776.42" stroke="#000" stroke-width="3"/>
<line x1="971.9" y1="727.59" x2="981.4" y2="727.59" stroke="#000" stroke-width="3"/>
<text x="966" y="737.89" font-family='"Liberation Sans", Arial, Helvetica, sans-serif' font-size="35" font-weight="normal" fill="#000" text-anchor="end" >150</text>
<line x1="1630.2" y1="1231.2" x2="1639.7" y2="1231.2" stroke="#000" stroke-width="3"/>
<text x="1645" y="1242" font-family='"Liberation Sans", Arial, Helvetica, sans-serif' font-size="35" font-weight="normal" fill="#000" text-anchor="start" >0</text>
<line x1="1630.2" y1="1173.01" x2="1635.2" y2="1173.01" stroke="#000" stroke-width="3"/>
<line x1="1630.2" y1="1114.83" x2="1639.7" y2="1114.83" stroke="#000" stroke-width="3"/>
<text x="1645" y="1125.62" font-family='"Liberation Sans", Arial, Helvetica, sans-serif' font-size="35" font-weight="normal" fill="#000" text-anchor="start" >25</text>
<line x1="1630.2" y1="1056.64" x2="1635.2" y2="1056.64" stroke="#000" stroke-width="3"/>
<line x1="1630.2" y1="998.45" x2="1639.7" y2="998.45" stroke="#000" stroke-width="3"/>
<text x="1645" y="1009.25" font-family='"Liberation Sans", Arial, Helvetica, sans-serif' font-size="35" font-weight="normal" fill="#000" text-anchor="start" >50</text>
<line x1="1630.2" y1="940.26" x2="1635.2" y2="940.26" stroke="#000" stroke-width="3"/>
<line x1="1630.2" y1="882.08" x2="1639.7" y2="882.08" stroke="#000" stroke-width="3"/>
<text x="1645" y="892.88" font-family='"Liberation Sans", Arial, Helvetica, sans-serif' font-size="35" font-weight="normal" fill="#000" text-anchor="start" >75</text>
<line x1="1630.2" y1="823.89" x2="1635.2" y2="823.89" stroke="#000" stroke-width="3"/>
<line x1="1630.2" y1="765.7" x2="1639.7" y2="765.7" stroke="#000" stroke-width="3"/>
<text x="1645" y="776.5" font-family='"Liberation Sans", Arial, Helvetica, sans-serif' font-size="35" font-weight="normal" fill="#000" text-anchor="start" >100</text>
<line x1="1630.2" y1="707.51" x2="1635.2" y2="707.51" stroke="#000" stroke-width="3"/>
<line x1="996.4" y1="1231.3" x2="996.4" y2="1240.3" stroke="#000" stroke-width="3"/>
<text x="996.7" y="1274.2" font-family='"Liberation Sans", Arial, Helvetica, sans-serif' font-size="35" font-weight="normal" fill="#000" text-anchor="middle" >0</text>
<line x1="1073.68" y1="1231.3" x2="1073.68" y2="1240.3" stroke="#000" stroke-width="3"/>
<text x="1073.98" y="1274.2" font-family='"Liberation Sans", Arial, Helvetica, sans-serif' font-size="35" font-weight="normal" fill="#000" text-anchor="middle" >5</text>
<line x1="1150.97" y1="1231.3" x2="1150.97" y2="1240.3" stroke="#000" stroke-width="3"/>
<text x="1151.27" y="1274.2" font-family='"Liberation Sans", Arial, Helvetica, sans-serif' font-size="35" font-weight="normal" fill="#000" text-anchor="middle" >10</text>
<line x1="1228.26" y1="1231.3" x2="1228.26" y2="1240.3" stroke="#000" stroke-width="3"/>
<text x="1228.56" y="1274.2" font-family='"Liberation Sans", Arial, Helvetica, sans-serif' font-size="35" font-weight="normal" fill="#000" text-anchor="middle" >15</text>
<line x1="1305.54" y1="1231.3" x2="1305.54" y2="1240.3" stroke="#000" stroke-width="3"/>
<text x="1305.84" y="1274.2" font-family='"Liberation Sans", Arial, Helvetica, sans-serif' font-size="35" font-weight="normal" fill="#000" text-anchor="middle" >20</text>
<line x1="1382.83" y1="1231.3" x2="1382.83" y2="1240.3" stroke="#000" stroke-width="3"/>
<text x="1383.12" y="1274.2" font-family='"Liberation Sans", Arial, Helvetica, sans-serif' font-size="35" font-weight="normal" fill="#000" text-anchor="middle" >25</text>
<line x1="1460.11" y1="1231.3" x2="1460.11" y2="1240.3" stroke="#000" stroke-width="3"/>
<text x="1460.41" y="1274.2" font-family='"Liberation Sans", Arial, Helvetica, sans-serif' font-size="35" font-weight="normal" fill="#000" text-anchor="middle" >30</text>
<line x1="1537.39" y1="1231.3" x2="1537.39" y2="1240.3" stroke="#000" stroke-width="3"/>
<text x="1537.69" y="1274.2" font-family='"Liberation Sans", Arial, Helvetica, sans-serif' font-size="35" font-weight="normal" fill="#000" text-anchor="middle" >35</text>
<line x1="1614.68" y1="1231.3" x2="1614.68" y2="1240.3" stroke="#000" stroke-width="3"/>
<text x="1614.98" y="1274.2" font-family='"Liberation Sans", Arial, Helvetica, sans-serif' font-size="35" font-weight="normal" fill="#000" text-anchor="middle" >40</text>
<text transform="translate(892.3,962.4) rotate(-90)" font-family='"Liberation Sans", Arial, Helvetica, sans-serif' font-size="39" text-anchor="middle" textLength="436.8" lengthAdjust="spacingAndGlyphs">Specific capacity (mAh g<tspan dy="-15" font-size="25">-1</tspan><tspan dy="15">)</tspan></text>
<text transform="translate(1741.2,966.5) rotate(-90)" font-family='"Liberation Sans", Arial, Helvetica, sans-serif' font-size="39" text-anchor="middle" textLength="402" lengthAdjust="spacingAndGlyphs">Coulombic efficiency (%)</text>
<text x="1190.5" y="1332.4" font-family='"Liberation Sans", Arial, Helvetica, sans-serif' font-size="39" font-weight="normal" fill="#000" text-anchor="start" textLength="229.5" lengthAdjust="spacingAndGlyphs" >Cycle number</text>
<text x="1013.3" y="909.2" font-family='"Liberation Sans", Arial, Helvetica, sans-serif' font-size="30" font-weight="bold" fill="#000" text-anchor="start" textLength="66.8" lengthAdjust="spacingAndGlyphs" >0.2 C</text>
<text x="1092.6" y="920.2" font-family='"Liberation Sans", Arial, Helvetica, sans-serif' font-size="30" font-weight="bold" fill="#000" text-anchor="start" textLength="67.3" lengthAdjust="spacingAndGlyphs" >0.5 C</text>
<text x="1178.4" y="927.2" font-family='"Liberation Sans", Arial, Helvetica, sans-serif' font-size="30" font-weight="bold" fill="#000" text-anchor="start" textLength="44" lengthAdjust="spacingAndGlyphs" >1 C</text>
<text x="1257.7" y="935.1" font-family='"Liberation Sans", Arial, Helvetica, sans-serif' font-size="30" font-weight="bold" fill="#000" text-anchor="start" textLength="44.1" lengthAdjust="spacingAndGlyphs" >2 C</text>
<text x="1342.5" y="951.5" font-family='"Liberation Sans", Arial, Helvetica, sans-serif' font-size="30" font-weight="bold" fill="#000" text-anchor="start" textLength="44.4" lengthAdjust="spacingAndGlyphs" >4 C</text>
<text x="1413.5" y="955.8" font-family='"Liberation Sans", Arial, Helvetica, sans-serif' font-size="30" font-weight="bold" fill="#000" text-anchor="start" textLength="43.4" lengthAdjust="spacingAndGlyphs" >5 C</text>
<text x="1481.5" y="973.7" font-family='"Liberation Sans", Arial, Helvetica, sans-serif' font-size="30" font-weight="bold" fill="#000" text-anchor="start" textLength="58.6" lengthAdjust="spacingAndGlyphs" >10 C</text>
<text x="1550.5" y="906.2" font-family='"Liberation Sans", Arial, Helvetica, sans-serif' font-size="30" font-weight="bold" fill="#000" text-anchor="start" textLength="67.8" lengthAdjust="spacingAndGlyphs" >0.2 C</text>
<circle cx="1030.9" cy="1114" r="9.3" fill="url(#ballR)"/>
<circle cx="1030.8" cy="1154.1" r="9.3" fill="url(#ballB)"/>
<text x="1062.6" y="1120.6" font-family='"Liberation Sans", Arial, Helvetica, sans-serif' font-size="27.4" textLength="253" lengthAdjust="spacingAndGlyphs"><tspan>P2-Na</tspan><tspan dy="7.8" font-size="18.5">2/3</tspan><tspan dy="-7.8">Ni</tspan><tspan dy="7.8" font-size="18.5">1/3</tspan><tspan dy="-7.8">Mn</tspan><tspan dy="7.8" font-size="18.5">2/3</tspan><tspan dy="-7.8">O</tspan><tspan dy="7.8" font-size="18.5">2</tspan></text>
<text x="1062.6" y="1160.9" font-family='"Liberation Sans", Arial, Helvetica, sans-serif' font-size="27.4" textLength="253" lengthAdjust="spacingAndGlyphs"><tspan>P2-Na</tspan><tspan dy="7.8" font-size="18.5">2/3</tspan><tspan dy="-7.8">Ni</tspan><tspan dy="7.8" font-size="18.5">0.3</tspan><tspan dy="-7.8">Mn</tspan><tspan dy="7.8" font-size="18.5">0.7</tspan><tspan dy="-7.8">O</tspan><tspan dy="7.8" font-size="18.5">2</tspan></text>
<text x="1018" y="1211.7" font-family='"Liberation Sans", Arial, Helvetica, sans-serif' font-size="29.7" font-weight="normal" fill="#000" text-anchor="start" textLength="334" lengthAdjust="spacingAndGlyphs" >2.0-4.0 V 0.2C (30 mA/g)</text>
<path d="M1074.5,966.8 V999.4 H1010" fill="none" stroke="#ff0a7f" stroke-width="4.8"/>
<path d="M987.7,999.4 L1012,992.2 L1012,1006.6 Z" fill="#ff0a7f" stroke="#ff0a7f" stroke-width="2" stroke-linejoin="round"/>
<path d="M1546.2,816.4 V848.7 H1598" fill="none" stroke="#e3ae2c" stroke-width="4.8"/>
<path d="M1620.8,848.7 L1596.5,841.4 L1596.5,856 Z" fill="#e3ae2c" stroke="#e3ae2c" stroke-width="2" stroke-linejoin="round"/>
<text x="869" y="709.3" font-family='"Liberation Sans", Arial, Helvetica, sans-serif' font-size="39.5" font-weight="bold" fill="#000" text-anchor="start" >d</text>
<defs><clipPath id="clipE"><rect x="119.2" y="1367.8" width="678.8" height="489.5"/></clipPath></defs>
<g clip-path="url(#clipE)" fill="none" stroke-width="3.1" stroke-linejoin="round" stroke-linecap="round">
<path d="M134.5,1621.5C136.95,1620.05 143.52,1615.23 149.2,1612.8C154.88,1610.37 162.13,1607.72 168.6,1606.9C175.07,1606.08 179.9,1608.05 188,1607.9C196.1,1607.75 205.87,1606.48 217.2,1606C228.53,1605.52 246.28,1604.85 256,1605C265.72,1605.15 265.77,1606.1 275.5,1606.9C285.23,1607.7 301.43,1609.32 314.4,1609.8C327.37,1610.28 337.1,1610.12 353.3,1609.8C369.5,1609.48 393.82,1608.38 411.6,1607.9C429.38,1607.42 444.97,1607.98 460,1606.9C475.03,1605.82 484.55,1603.33 501.8,1601.4C519.05,1599.47 549.63,1597.53 563.5,1595.3C577.37,1593.07 579.17,1590.23 585,1588C590.83,1585.77 594.18,1580.68 598.5,1581.9C602.82,1583.12 606.43,1591.53 610.9,1595.3C615.37,1599.07 620.45,1603.28 625.3,1604.5C630.15,1605.72 634.13,1605.32 640,1602.6C645.87,1599.88 653.67,1593 660.5,1588.2C667.33,1583.4 675.02,1576.88 681,1573.8C686.98,1570.72 691.27,1571.48 696.4,1569.7C701.53,1567.92 708.38,1563.27 711.8,1563.1C715.22,1562.93 715.18,1565.2 716.9,1568.7C718.62,1572.2 720.05,1578.63 722.1,1584.1C724.15,1589.57 725.78,1597.92 729.2,1601.5C732.62,1605.08 733.88,1604.57 742.6,1605.6C751.32,1606.63 775.02,1607.35 781.5,1607.7 L781.5,1607.7C772.62,1608.37 743.95,1610 728.2,1611.7C712.45,1613.4 697.3,1614.12 687,1617.9C676.7,1621.68 672.92,1628.9 666.4,1634.4C659.88,1639.9 654.75,1648.67 647.9,1650.9C641.05,1653.13 632.5,1649.52 625.3,1647.8C618.1,1646.08 610.88,1645.23 604.7,1640.6C598.52,1635.97 593.35,1623.95 588.2,1620C583.05,1616.05 581.83,1615.9 573.8,1616.9C565.77,1617.9 550.3,1623.25 540,1626C529.7,1628.75 525.33,1633.33 512,1633.4C498.67,1633.47 473.5,1629.2 460,1626.4C446.5,1623.6 442.3,1618.23 431,1616.6C419.7,1614.97 408.4,1616.43 392.2,1616.6C376,1616.77 353.25,1617.6 333.8,1617.6C314.35,1617.6 294.93,1616.27 275.5,1616.6C256.07,1616.93 231.78,1618.95 217.2,1619.6C202.62,1620.25 197.72,1621 188,1620.5C178.28,1620 167.82,1616.43 158.9,1616.6C149.98,1616.77 138.57,1620.68 134.5,1621.5" stroke="#98e22b"/>
<path d="M134.5,1624.4C140.18,1622.47 154.82,1615.72 168.6,1612.8C182.38,1609.88 202.63,1608.53 217.2,1606.9C231.77,1605.27 244.67,1604.45 256,1603C267.33,1601.55 275.47,1597.87 285.2,1598.2C294.93,1598.53 301.43,1603.55 314.4,1605C327.37,1606.45 345.4,1607.23 363,1606.9C380.6,1606.57 403.83,1603.97 420,1603C436.17,1602.03 446.37,1602.38 460,1601.1C473.63,1599.82 484.55,1598.67 501.8,1595.3C519.05,1591.93 547.97,1585.45 563.5,1580.9C579.03,1576.35 587.1,1570.92 595,1568C602.9,1565.08 605.85,1562.28 610.9,1563.4C615.95,1564.52 619.48,1569.9 625.3,1574.7C631.12,1579.5 638.95,1591.17 645.8,1592.2C652.65,1593.23 660.53,1586.02 666.4,1580.9C672.27,1575.78 675.85,1567 681,1561.5C686.15,1556 692.17,1551.82 697.3,1547.9C702.43,1543.98 707.33,1540.68 711.8,1538C716.27,1535.32 720.68,1531.3 724.1,1531.8C727.52,1532.3 729.9,1535.7 732.3,1541C734.7,1546.3 735.93,1555.57 738.5,1563.6C741.07,1571.63 744.45,1583.05 747.7,1589.2C750.95,1595.35 752.37,1598.1 758,1600.5C763.63,1602.9 777.58,1603.08 781.5,1603.6 L781.5,1603.6C781.5,1603.67 788.42,1602.6 781.5,1604C774.58,1605.4 753.58,1609.33 740,1612C726.42,1614.67 710,1617.33 700,1620C690,1622.67 687.32,1623.88 680,1628C672.68,1632.12 663.5,1638.15 656.1,1644.7C648.7,1651.25 642.45,1662.5 635.6,1667.3C628.75,1672.1 621.87,1673.15 615,1673.5C608.13,1673.85 601.27,1674.2 594.4,1669.4C587.53,1664.6 579.98,1651.22 573.8,1644.7C567.62,1638.18 564.6,1631.08 557.3,1630.3C550,1629.52 538.23,1636.75 530,1640C521.77,1643.25 519.57,1649.48 507.9,1649.8C496.23,1650.12 472.82,1644.83 460,1641.9C447.18,1638.97 440.68,1635.12 431,1632.2C421.32,1629.28 414.85,1625.7 401.9,1624.4C388.95,1623.1 374.37,1624.4 353.3,1624.4C332.23,1624.4 298.18,1624.07 275.5,1624.4C252.82,1624.73 235.02,1625.58 217.2,1626.4C199.38,1627.22 182.38,1629.63 168.6,1629.3C154.82,1628.97 140.18,1625.22 134.5,1624.4" stroke="#e3da2b"/>
<path d="M134.5,1632C137.08,1630.33 142.7,1624.88 150,1622C157.3,1619.12 163.87,1617.37 178.3,1614.7C192.73,1612.03 221.32,1608.78 236.6,1606C251.88,1603.22 261.9,1599.78 270,1598C278.1,1596.22 280.2,1595.63 285.2,1595.3C290.2,1594.97 295.13,1595.03 300,1596C304.87,1596.97 303.9,1599.6 314.4,1601.1C324.9,1602.6 345.4,1605.18 363,1605C380.6,1604.82 403.83,1601.62 420,1600C436.17,1598.38 446.37,1597.12 460,1595.3C473.63,1593.48 484.55,1593.22 501.8,1589.1C519.05,1584.98 547.13,1576.28 563.5,1570.6C579.87,1564.92 590.4,1558.95 600,1555C609.6,1551.05 615.17,1546.37 621.1,1546.9C627.03,1547.43 629.77,1553.92 635.6,1558.2C641.43,1562.48 649.25,1572.25 656.1,1572.6C662.95,1572.95 670.83,1565.73 676.7,1560.3C682.57,1554.87 685.45,1546.97 691.3,1540C697.15,1533.03 704.45,1524.48 711.8,1518.5C719.15,1512.52 729.93,1505.13 735.4,1504.1C740.87,1503.07 741.7,1506.65 744.6,1512.3C747.5,1517.95 749.72,1528.6 752.8,1538C755.88,1547.4 759.68,1560.67 763.1,1568.7C766.52,1576.73 770.23,1581.92 773.3,1586.2C776.37,1590.48 780.13,1593.03 781.5,1594.4 L781.5,1594.4C781.5,1595.33 783.42,1597.9 781.5,1600C779.58,1602.1 776.92,1604.67 770,1607C763.08,1609.33 750,1611.67 740,1614C730,1616.33 718.33,1618.33 710,1621C701.67,1623.67 697.27,1625.5 690,1630C682.73,1634.5 673.77,1640.4 666.4,1648C659.03,1655.6 652.65,1668.6 645.8,1675.6C638.95,1682.6 632.83,1686.92 625.3,1690C617.77,1693.08 607.32,1694.43 600.6,1694.1C593.88,1693.77 589.47,1690.75 585,1688C580.53,1685.25 578.07,1682.77 573.8,1677.6C569.53,1672.43 564.2,1661.97 559.4,1657C554.6,1652.03 551.57,1647.97 545,1647.8C538.43,1647.63 527.9,1653.08 520,1656C512.1,1658.92 507.6,1665.05 497.6,1665.3C487.6,1665.55 471.1,1660.75 460,1657.5C448.9,1654.25 442.3,1650.02 431,1645.8C419.7,1641.58 405.15,1635.12 392.2,1632.2C379.25,1629.28 372.75,1628.95 353.3,1628.3C333.85,1627.65 298.18,1627.65 275.5,1628.3C252.82,1628.95 235.02,1630.9 217.2,1632.2C199.38,1633.5 180.63,1635.63 168.6,1636.1C156.57,1636.57 150.68,1635.68 145,1635C139.32,1634.32 136.25,1632.5 134.5,1632" stroke="#e3aa24"/>
<path d="M134.5,1642C137.08,1640 144.32,1633.58 150,1630C155.68,1626.42 161.93,1623.33 168.6,1620.5C175.27,1617.67 181.9,1614.93 190,1613C198.1,1611.07 205.53,1611.4 217.2,1608.9C228.87,1606.4 248.67,1600.77 260,1598C271.33,1595.23 278.53,1593.3 285.2,1592.3C291.87,1591.3 295.13,1591.35 300,1592C304.87,1592.65 303.9,1594.52 314.4,1596.2C324.9,1597.88 345.4,1601.97 363,1602.1C380.6,1602.23 403.83,1598.78 420,1597C436.17,1595.22 446.37,1593.4 460,1591.4C473.63,1589.4 487.98,1588.13 501.8,1585C515.62,1581.87 529.18,1577.75 542.9,1572.6C556.62,1567.45 572.92,1559.53 584.1,1554.1C595.28,1548.67 602.12,1543.6 610,1540C617.88,1536.4 625.43,1532.55 631.4,1532.5C637.37,1532.45 640.1,1536.57 645.8,1539.7C651.5,1542.83 659.73,1550.57 665.6,1551.3C671.47,1552.03 675.02,1549.23 681,1544.1C686.98,1538.97 694.67,1528.18 701.5,1520.5C708.33,1512.82 716.25,1504.08 722,1498C727.75,1491.92 732.23,1487.17 736,1484C739.77,1480.83 741.8,1478.73 744.6,1479C747.4,1479.27 749.72,1479.2 752.8,1485.6C755.88,1492 759.68,1506.97 763.1,1517.4C766.52,1527.83 770.23,1540.85 773.3,1548.2C776.37,1555.55 780.13,1559.28 781.5,1561.5" stroke="#ef7c22"/>
<path d="M781.5,1602.6C781,1603.53 780.42,1606.72 778.5,1608.2C776.58,1609.68 774.42,1610.45 770,1611.5C765.58,1612.55 760,1613.17 752,1614.5C744,1615.83 730.67,1617.58 722,1619.5C713.33,1621.42 705.83,1623.75 700,1626C694.17,1628.25 692.6,1628.52 687,1633C681.4,1637.48 672.57,1645.73 666.4,1652.9C660.23,1660.07 655.13,1669.4 650,1676C644.87,1682.6 640.6,1688 635.6,1692.5C630.6,1697 625.15,1700.33 620,1703C614.85,1705.67 610.68,1707.58 604.7,1708.5C598.72,1709.42 589.55,1709.75 584.1,1708.5C578.65,1707.25 575.43,1703.75 572,1701C568.57,1698.25 566.67,1695.5 563.5,1692C560.33,1688.5 556.42,1683.43 553,1680C549.58,1676.57 546.73,1673.68 543,1671.4C539.27,1669.12 536.1,1666.53 530.6,1666.3C525.1,1666.07 518.23,1668.12 510,1670C501.77,1671.88 489.53,1677.1 481.2,1677.6C472.87,1678.1 466.87,1674.88 460,1673C453.13,1671.12 448.07,1669.87 440,1666.3C431.93,1662.73 419.93,1655.82 411.6,1651.6C403.27,1647.38 396.48,1643.92 390,1641C383.52,1638.08 382.07,1636.05 372.7,1634.1C363.33,1632.15 350,1629.95 333.8,1629.3C317.6,1628.65 294.93,1629.07 275.5,1630.2C256.07,1631.33 235.02,1633.82 217.2,1636.1C199.38,1638.38 180.63,1642.5 168.6,1643.9C156.57,1645.3 150.68,1644.82 145,1644.5C139.32,1644.18 136.25,1642.42 134.5,1642" stroke="#ef7c22"/>
<path d="M134.5,1649.5C136.58,1648.25 142.93,1644.33 147,1642C151.07,1639.67 154.23,1638.33 158.9,1635.5C163.57,1632.67 168.52,1628.47 175,1625C181.48,1621.53 190.77,1617.38 197.8,1614.7C204.83,1612.02 210.17,1610.68 217.2,1608.9C224.23,1607.12 233.53,1605.32 240,1604C246.47,1602.68 250.67,1602.5 256,1601C261.33,1599.5 267.13,1596.77 272,1595C276.87,1593.23 280.73,1591.48 285.2,1590.4C289.67,1589.32 293.93,1588.33 298.8,1588.5C303.67,1588.67 308.57,1589.95 314.4,1591.4C320.23,1592.85 325.7,1595.75 333.8,1597.2C341.9,1598.65 353.27,1600.27 363,1600.1C372.73,1599.93 380.87,1597.65 392.2,1596.2C403.53,1594.75 419.7,1592.68 431,1591.4C442.3,1590.12 448.2,1590.25 460,1588.5C471.8,1586.75 487.98,1584.57 501.8,1580.9C515.62,1577.23 529.18,1571.65 542.9,1566.5C556.62,1561.35 572.08,1555.83 584.1,1550C596.12,1544.17 607.02,1536.42 615,1531.5C622.98,1526.58 627.72,1522.73 632,1520.5C636.28,1518.27 636.7,1517.42 640.7,1518.1C644.7,1518.78 650.82,1522.32 656,1524.6C661.18,1526.88 666.77,1531.8 671.8,1531.8C676.83,1531.8 681.25,1528.53 686.2,1524.6C691.15,1520.67 695.52,1515.38 701.5,1508.2C707.48,1501.02 715.25,1489.7 722.1,1481.5C728.95,1473.3 737.48,1463.7 742.6,1459C747.72,1454.3 749.38,1452.62 752.8,1453.3C756.22,1453.98 759.68,1456.68 763.1,1463.1C766.52,1469.52 770.23,1482.92 773.3,1491.8C776.37,1500.68 780.13,1512.3 781.5,1516.4" stroke="#fb3535"/>
<path d="M781.5,1581C780.65,1583.23 778.62,1590.47 776.4,1594.4C774.18,1598.33 772.13,1601.7 768.2,1604.6C764.27,1607.5 760.5,1609.57 752.8,1611.8C745.1,1614.03 730.8,1615.8 722,1618C713.2,1620.2 705.83,1622.62 700,1625C694.17,1627.38 692.6,1627.3 687,1632.3C681.4,1637.3 672.57,1647.38 666.4,1655C660.23,1662.62 655.13,1671.15 650,1678C644.87,1684.85 640.6,1690.93 635.6,1696.1C630.6,1701.27 625.15,1705.57 620,1709C614.85,1712.43 610.03,1714.53 604.7,1716.7C599.37,1718.87 593.15,1720.8 588,1722C582.85,1723.2 578.13,1724.57 573.8,1723.9C569.47,1723.23 565.43,1720.57 562,1718C558.57,1715.43 556.2,1712.33 553.2,1708.5C550.2,1704.67 546.75,1698.43 544,1695C541.25,1691.57 540.32,1689.93 536.7,1687.9C533.08,1685.87 528.42,1683.12 522.3,1682.8C516.18,1682.48 508.57,1684.98 500,1686C491.43,1687.02 479.23,1689.07 470.9,1688.9C462.57,1688.73 456.65,1686.68 450,1685C443.35,1683.32 437.4,1681.13 431,1678.8C424.6,1676.47 418.07,1673.9 411.6,1671C405.13,1668.1 398.8,1664.57 392.2,1661.4C385.6,1658.23 378.48,1654.77 372,1652C365.52,1649.23 361.28,1647.13 353.3,1644.8C345.32,1642.47 337.07,1639.72 324.1,1638C311.13,1636.28 286.85,1635.33 275.5,1634.5C264.15,1633.67 265.72,1633.07 256,1633C246.28,1632.93 226.9,1633.6 217.2,1634.1C207.5,1634.6 207.52,1634.53 197.8,1636C188.08,1637.47 169.45,1640.65 158.9,1642.9C148.35,1645.15 138.57,1648.4 134.5,1649.5" stroke="#fb3535"/>
</g>
<rect x="119.2" y="1367.8" width="678.8" height="489.5" fill="none" stroke="#000" stroke-width="2.7"/>
<line x1="109.2" y1="1816.5" x2="119.2" y2="1816.5" stroke="#000" stroke-width="2.7"/>
<text x="102.6" y="1826" font-family='"Liberation Sans", Arial, Helvetica, sans-serif' font-size="32.7" font-weight="normal" fill="#000" text-anchor="end" >-1.0</text>
<line x1="113.7" y1="1765.5" x2="119.2" y2="1765.5" stroke="#000" stroke-width="2.7"/>
<line x1="109.2" y1="1714.5" x2="119.2" y2="1714.5" stroke="#000" stroke-width="2.7"/>
<text x="102.6" y="1724" font-family='"Liberation Sans", Arial, Helvetica, sans-serif' font-size="32.7" font-weight="normal" fill="#000" text-anchor="end" >-0.5</text>
<line x1="113.7" y1="1663.5" x2="119.2" y2="1663.5" stroke="#000" stroke-width="2.7"/>
<line x1="109.2" y1="1612.5" x2="119.2" y2="1612.5" stroke="#000" stroke-width="2.7"/>
<text x="102.6" y="1622" font-family='"Liberation Sans", Arial, Helvetica, sans-serif' font-size="32.7" font-weight="normal" fill="#000" text-anchor="end" >0.0</text>
<line x1="113.7" y1="1561.5" x2="119.2" y2="1561.5" stroke="#000" stroke-width="2.7"/>
<line x1="109.2" y1="1510.5" x2="119.2" y2="1510.5" stroke="#000" stroke-width="2.7"/>
<text x="102.6" y="1520" font-family='"Liberation Sans", Arial, Helvetica, sans-serif' font-size="32.7" font-weight="normal" fill="#000" text-anchor="end" >0.5</text>
<line x1="113.7" y1="1459.5" x2="119.2" y2="1459.5" stroke="#000" stroke-width="2.7"/>
<line x1="109.2" y1="1408.5" x2="119.2" y2="1408.5" stroke="#000" stroke-width="2.7"/>
<text x="102.6" y="1418" font-family='"Liberation Sans", Arial, Helvetica, sans-serif' font-size="32.7" font-weight="normal" fill="#000" text-anchor="end" >1.0</text>
<line x1="135.2" y1="1857.3" x2="135.2" y2="1866.8" stroke="#000" stroke-width="2.7"/>
<text x="135.2" y="1899.6" font-family='"Liberation Sans", Arial, Helvetica, sans-serif' font-size="32.7" font-weight="normal" fill="#000" text-anchor="middle" >2.0</text>
<line x1="215.9" y1="1857.3" x2="215.9" y2="1862.3" stroke="#000" stroke-width="2.7"/>
<line x1="296.6" y1="1857.3" x2="296.6" y2="1866.8" stroke="#000" stroke-width="2.7"/>
<text x="296.6" y="1899.6" font-family='"Liberation Sans", Arial, Helvetica, sans-serif' font-size="32.7" font-weight="normal" fill="#000" text-anchor="middle" >2.5</text>
<line x1="377.3" y1="1857.3" x2="377.3" y2="1862.3" stroke="#000" stroke-width="2.7"/>
<line x1="458" y1="1857.3" x2="458" y2="1866.8" stroke="#000" stroke-width="2.7"/>
<text x="458" y="1899.6" font-family='"Liberation Sans", Arial, Helvetica, sans-serif' font-size="32.7" font-weight="normal" fill="#000" text-anchor="middle" >3.0</text>
<line x1="538.7" y1="1857.3" x2="538.7" y2="1862.3" stroke="#000" stroke-width="2.7"/>
<line x1="619.4" y1="1857.3" x2="619.4" y2="1866.8" stroke="#000" stroke-width="2.7"/>
<text x="619.4" y="1899.6" font-family='"Liberation Sans", Arial, Helvetica, sans-serif' font-size="32.7" font-weight="normal" fill="#000" text-anchor="middle" >3.5</text>
<line x1="700.1" y1="1857.3" x2="700.1" y2="1862.3" stroke="#000" stroke-width="2.7"/>
<line x1="780.8" y1="1857.3" x2="780.8" y2="1866.8" stroke="#000" stroke-width="2.7"/>
<text x="780.8" y="1899.6" font-family='"Liberation Sans", Arial, Helvetica, sans-serif' font-size="32.7" font-weight="normal" fill="#000" text-anchor="middle" >4.0</text>
<text x="273.3" y="1941.4" font-family='"Liberation Sans", Arial, Helvetica, sans-serif' font-size="35" textLength="370" lengthAdjust="spacingAndGlyphs">Potential (V vs. Na<tspan dy="-13" font-size="22">+</tspan><tspan dy="13">/Na)</tspan></text>
<text transform="translate(34.6,1614.3) rotate(-90)" font-family='"Liberation Sans", Arial, Helvetica, sans-serif' font-size="36.5" text-anchor="middle" textLength="458.5" lengthAdjust="spacingAndGlyphs">Current density (*10<tspan dy="-14" font-size="24">-3</tspan><tspan dy="14"> A cm</tspan><tspan dy="-14" font-size="24">-2</tspan><tspan dy="14">)</tspan></text>
<line x1="139.1" y1="1392.4" x2="200.6" y2="1392.4" stroke="#98e22b" stroke-width="3.3"/>
<text x="208.5" y="1402.2" font-family='"Liberation Sans", Arial, Helvetica, sans-serif' font-size="26.8" font-weight="normal" fill="#000" text-anchor="start" textLength="103.5" lengthAdjust="spacingAndGlyphs" >0.2 mv/s</text>
<line x1="321.6" y1="1392.4" x2="382.9" y2="1392.4" stroke="#e3da2b" stroke-width="3.3"/>
<text x="390.3" y="1402.2" font-family='"Liberation Sans", Arial, Helvetica, sans-serif' font-size="26.8" font-weight="normal" fill="#000" text-anchor="start" textLength="103.5" lengthAdjust="spacingAndGlyphs" >0.4 mv/s</text>
<line x1="139.1" y1="1426.5" x2="200.6" y2="1426.5" stroke="#e3aa24" stroke-width="3.3"/>
<text x="208.5" y="1435.4" font-family='"Liberation Sans", Arial, Helvetica, sans-serif' font-size="26.8" font-weight="normal" fill="#000" text-anchor="start" textLength="103.5" lengthAdjust="spacingAndGlyphs" >0.6 mv/s</text>
<line x1="321.6" y1="1426.5" x2="382.9" y2="1426.5" stroke="#ef7c22" stroke-width="3.3"/>
<text x="390.3" y="1435.4" font-family='"Liberation Sans", Arial, Helvetica, sans-serif' font-size="26.8" font-weight="normal" fill="#000" text-anchor="start" textLength="103.5" lengthAdjust="spacingAndGlyphs" >0.8 mv/s</text>
<line x1="139.1" y1="1460.4" x2="200.6" y2="1460.4" stroke="#fb3535" stroke-width="3.3"/>
<text x="208.5" y="1469.5" font-family='"Liberation Sans", Arial, Helvetica, sans-serif' font-size="26.8" font-weight="normal" fill="#000" text-anchor="start" textLength="103.5" lengthAdjust="spacingAndGlyphs" >1.0 mv/s</text>
<text x="628.6" y="1501.2" font-family='"Liberation Sans", Arial, Helvetica, sans-serif' font-size="30.5" font-weight="bold" fill="#000" text-anchor="start" >a</text>
<text x="741.3" y="1435.8" font-family='"Liberation Sans", Arial, Helvetica, sans-serif' font-size="29.5" font-weight="bold" fill="#000" text-anchor="start" >b</text>
<text x="132.8" y="1833" font-family='"Liberation Sans", Arial, Helvetica, sans-serif' font-size="27.5" textLength="262" lengthAdjust="spacingAndGlyphs"><tspan>P2-Na</tspan><tspan dy="8" font-size="18.5">2/3</tspan><tspan dy="-8">Ni</tspan><tspan dy="8" font-size="18.5">0.3</tspan><tspan dy="-8">Mn</tspan><tspan dy="8" font-size="18.5">0.7</tspan><tspan dy="-8">O</tspan><tspan dy="8" font-size="18.5">2</tspan></text>
<text x="8.3" y="1360" font-family='"Liberation Sans", Arial, Helvetica, sans-serif' font-size="39.5" font-weight="bold" fill="#000" text-anchor="start" >e</text>
<defs><clipPath id="clipF"><rect x="982.2" y="1367" width="663.2" height="477.9"/></clipPath></defs>
<g clip-path="url(#clipF)" fill="none" stroke-width="3.1" stroke-linejoin="round" stroke-linecap="round">
<path d="M997,1611.5C1000.72,1610.5 1007,1606.6 1019.3,1605.5C1031.6,1604.4 1047.93,1604.77 1070.8,1604.9C1093.67,1605.03 1120.8,1606.3 1156.5,1606.3C1192.2,1606.3 1259.17,1605.57 1285,1604.9C1310.83,1604.23 1301.37,1603.17 1311.5,1602.3C1321.63,1601.43 1336.67,1601.13 1345.8,1599.7C1354.93,1598.27 1360.6,1595.67 1366.3,1593.7C1372,1591.73 1376.48,1589.23 1380,1587.9C1383.52,1586.57 1384.07,1585.85 1387.4,1585.7C1390.73,1585.55 1395.03,1586.5 1400,1587C1404.97,1587.5 1413.2,1589.87 1417.2,1588.7C1421.2,1587.53 1422.27,1582.48 1424,1580C1425.73,1577.52 1426.13,1575.58 1427.6,1573.8C1429.07,1572.02 1431.32,1568.8 1432.8,1569.3C1434.28,1569.8 1434.9,1571.83 1436.5,1576.8C1438.1,1581.77 1439.43,1594.9 1442.4,1599.1C1445.37,1603.3 1447.35,1601.63 1454.3,1602C1461.25,1602.37 1475.92,1602.53 1484.1,1601.3C1492.28,1600.07 1498.45,1599.18 1503.4,1594.6C1508.35,1590.02 1510.7,1579.13 1513.8,1573.8C1516.9,1568.47 1519.8,1563.73 1522,1562.6C1524.2,1561.47 1525.4,1565.5 1527,1567C1528.6,1568.5 1529.47,1571.83 1531.6,1571.6C1533.73,1571.37 1537.57,1564 1539.8,1565.6C1542.03,1567.2 1543.13,1575.62 1545,1581.2C1546.87,1586.78 1546.28,1595.63 1551,1599.1C1555.72,1602.57 1560.18,1601.27 1573.3,1602C1586.42,1602.73 1620.3,1603.25 1629.7,1603.5 L1629.7,1603.5C1620.3,1603.75 1587.67,1604 1573.3,1605C1558.93,1606 1551.38,1607.38 1543.5,1609.5C1535.62,1611.62 1530.42,1614.78 1526,1617.7C1521.58,1620.62 1519.88,1623.95 1517,1627C1514.12,1630.05 1512.03,1635.25 1508.7,1636C1505.37,1636.75 1500.45,1631.83 1497,1631.5C1493.55,1631.17 1490.9,1632.92 1488,1634C1485.1,1635.08 1482.27,1639.5 1479.6,1638C1476.93,1636.5 1474.27,1629.33 1472,1625C1469.73,1620.67 1468.45,1614.78 1466,1612C1463.55,1609.22 1464.47,1608.92 1457.3,1608.3C1450.13,1607.68 1433.02,1606.73 1423,1608.3C1412.98,1609.87 1404.93,1615.27 1397.2,1617.7C1389.47,1620.13 1385.17,1622.47 1376.6,1622.9C1368.03,1623.33 1353.23,1620.58 1345.8,1620.3C1338.37,1620.02 1336.3,1621.63 1332,1621.2C1327.7,1620.77 1324,1619.85 1320,1617.7C1316,1615.55 1318,1610.15 1308,1608.3C1298,1606.45 1290.97,1606.7 1260,1606.6C1229.03,1606.5 1162.32,1607.18 1122.2,1607.7C1082.08,1608.22 1040.17,1609.07 1019.3,1609.7C998.43,1610.33 1000.72,1611.2 997,1611.5" stroke="#98e22b"/>
<path d="M997,1617C999.17,1615.67 1004.5,1610.83 1010,1609C1015.5,1607.17 1020,1606.75 1030,1606C1040,1605.25 1054.67,1605 1070,1604.5C1085.33,1604 1102,1603.08 1122,1603C1142,1602.92 1170,1604.17 1190,1604C1210,1603.83 1226.17,1602.67 1242,1602C1257.83,1601.33 1270.33,1600.83 1285,1600C1299.67,1599.17 1318.33,1598.67 1330,1597C1341.67,1595.33 1348.33,1592.5 1355,1590C1361.67,1587.5 1365.83,1584.2 1370,1582C1374.17,1579.8 1375.85,1578.78 1380,1576.8C1384.15,1574.82 1388.22,1571.1 1394.9,1570.1C1401.58,1569.1 1413.92,1572.92 1420.1,1570.8C1426.28,1568.68 1429.02,1561.2 1432,1557.4C1434.98,1553.6 1436.52,1549.98 1438,1548C1439.48,1546.02 1439.9,1545.33 1440.9,1545.5C1441.9,1545.67 1443,1546.77 1444,1549C1445,1551.23 1445.18,1551.8 1446.9,1558.9C1448.62,1566 1450.58,1585.4 1454.3,1591.6C1458.02,1597.8 1461.77,1595.6 1469.2,1596.1C1476.63,1596.6 1490.23,1601.78 1498.9,1594.6C1507.57,1587.42 1516,1563.4 1521.2,1553C1526.4,1542.6 1527.8,1535.2 1530.1,1532.2C1532.4,1529.2 1533.52,1534.27 1535,1535C1536.48,1535.73 1537.5,1537.1 1539,1536.6C1540.5,1536.1 1542.63,1532.98 1544,1532C1545.37,1531.02 1546.2,1530.03 1547.2,1530.7C1548.2,1531.37 1548.88,1531.3 1550,1536C1551.12,1540.7 1552,1549.63 1553.9,1558.9C1555.8,1568.17 1558.17,1585.28 1561.4,1591.6C1564.63,1597.92 1561.92,1595.8 1573.3,1596.8C1584.68,1597.8 1620.3,1597.47 1629.7,1597.6 L1629.7,1597.6C1629.7,1597.83 1634.65,1597.93 1629.7,1599C1624.75,1600.07 1611.62,1602.58 1600,1604C1588.38,1605.42 1570,1606.33 1560,1607.5C1550,1608.67 1545,1609.25 1540,1611C1535,1612.75 1534.35,1612.3 1530,1618C1525.65,1623.7 1518.02,1637.95 1513.9,1645.2C1509.78,1652.45 1507.62,1659.03 1505.3,1661.5C1502.98,1663.97 1501.72,1660.72 1500,1660C1498.28,1659.28 1497.27,1656.82 1495,1657.2C1492.73,1657.58 1488.9,1660 1486.4,1662.3C1483.9,1664.6 1481.57,1669 1480,1671C1478.43,1673 1478.17,1675.8 1477,1674.3C1475.83,1672.8 1474.28,1667.72 1473,1662C1471.72,1656.28 1470.8,1647 1469.3,1640C1467.8,1633 1465.43,1624.57 1464,1620C1462.57,1615.43 1466.12,1614.27 1460.7,1612.6C1455.28,1610.93 1439.22,1609.15 1431.5,1610C1423.78,1610.85 1420.12,1611.55 1414.4,1617.7C1408.68,1623.85 1401.27,1640.68 1397.2,1646.9C1393.13,1653.12 1391.72,1653.15 1390,1655C1388.28,1656.85 1389.98,1659.92 1386.9,1658C1383.82,1656.08 1376.07,1647.63 1371.5,1643.5C1366.93,1639.37 1364.37,1634.5 1359.5,1633.2C1354.63,1631.9 1346.88,1635.98 1342.3,1635.7C1337.72,1635.42 1335.72,1633.92 1332,1631.5C1328.28,1629.08 1324.85,1624.78 1320,1621.2C1315.15,1617.62 1312.9,1612.15 1302.9,1610C1292.9,1607.85 1272.98,1608.38 1260,1608.3C1247.02,1608.22 1239.33,1609.13 1225,1609.5C1210.67,1609.87 1191.17,1610.17 1174,1610.5C1156.83,1610.83 1137.83,1610.92 1122,1611.5C1106.17,1612.08 1094.67,1613.42 1079,1614C1063.33,1614.58 1041.67,1614.5 1028,1615C1014.33,1615.5 1002.17,1616.67 997,1617" stroke="#e3da2b"/>
<path d="M997,1621C999.17,1619.33 1004.5,1613.5 1010,1611C1015.5,1608.5 1020,1607.17 1030,1606C1040,1604.83 1054.67,1604.75 1070,1604C1085.33,1603.25 1102,1601.75 1122,1601.5C1142,1601.25 1170,1602.75 1190,1602.5C1210,1602.25 1226.17,1600.92 1242,1600C1257.83,1599.08 1270.33,1597.83 1285,1597C1299.67,1596.17 1317.5,1596.17 1330,1595C1342.5,1593.83 1351.67,1592.55 1360,1590C1368.33,1587.45 1371.72,1585.13 1380,1579.7C1388.28,1574.27 1401.52,1561.85 1409.7,1557.4C1417.88,1552.95 1424.13,1555.72 1429.1,1553C1434.07,1550.28 1436.68,1544.93 1439.5,1541.1C1442.32,1537.27 1444.4,1532.23 1446,1530C1447.6,1527.77 1448.1,1527.87 1449.1,1527.7C1450.1,1527.53 1450.88,1527.52 1452,1529C1453.12,1530.48 1453.93,1529.63 1455.8,1536.6C1457.67,1543.57 1460.47,1561.88 1463.2,1570.8C1465.93,1579.72 1466.25,1587.12 1472.2,1590.1C1478.15,1593.08 1490.73,1595.63 1498.9,1588.7C1507.07,1581.77 1515,1561.63 1521.2,1548.5C1527.4,1535.37 1531.88,1516.58 1536.1,1509.9C1540.32,1503.22 1543.85,1509.38 1546.5,1508.4C1549.15,1507.42 1550.52,1505 1552,1504C1553.48,1503 1554.4,1502.23 1555.4,1502.4C1556.4,1502.57 1557,1503.02 1558,1505C1559,1506.98 1559.6,1502.83 1561.4,1514.3C1563.2,1525.77 1565.58,1560.92 1568.8,1573.8C1572.02,1586.68 1570.55,1588.38 1580.7,1591.6C1590.85,1594.82 1621.53,1592.85 1629.7,1593.1 L1629.7,1593.1C1629.7,1593.42 1634.65,1593.27 1629.7,1595C1624.75,1596.73 1611.62,1601.17 1600,1603.5C1588.38,1605.83 1570,1607.08 1560,1609C1550,1610.92 1545,1612.33 1540,1615C1535,1617.67 1535.22,1617.12 1530,1625C1524.78,1632.88 1513.68,1653.78 1508.7,1662.3C1503.72,1670.82 1503.23,1673.8 1500.1,1676.1C1496.97,1678.4 1493.32,1674.97 1489.9,1676.1C1486.48,1677.23 1482.58,1680.08 1479.6,1682.9C1476.62,1685.72 1473.72,1690.72 1472,1693C1470.28,1695.28 1470.47,1697.93 1469.3,1696.6C1468.13,1695.27 1466.72,1693 1465,1685C1463.28,1677 1461.17,1659.1 1459,1648.6C1456.83,1638.1 1453.72,1627.28 1452,1622C1450.28,1616.72 1453.53,1618.33 1448.7,1616.9C1443.87,1615.47 1430.15,1611.27 1423,1613.4C1415.85,1615.53 1411.23,1621.55 1405.8,1629.7C1400.37,1637.85 1394.03,1656 1390.4,1662.3C1386.77,1668.6 1385.72,1666.5 1384,1667.5C1382.28,1668.5 1382.1,1669.22 1380.1,1668.3C1378.1,1667.38 1374.87,1664.72 1372,1662C1369.13,1659.28 1367.27,1655.08 1362.9,1652C1358.53,1648.92 1351.52,1645.22 1345.8,1643.5C1340.08,1641.78 1334.32,1644 1328.6,1641.7C1322.88,1639.4 1317.22,1633.98 1311.5,1629.7C1305.78,1625.42 1302.88,1619.28 1294.3,1616C1285.72,1612.72 1271.55,1610.83 1260,1610C1248.45,1609.17 1239.33,1610.67 1225,1611C1210.67,1611.33 1191.17,1611.58 1174,1612C1156.83,1612.42 1137.83,1612.67 1122,1613.5C1106.17,1614.33 1094.67,1616.17 1079,1617C1063.33,1617.83 1041.67,1617.83 1028,1618.5C1014.33,1619.17 1002.17,1620.58 997,1621" stroke="#e3aa24"/>
<path d="M997,1625C999.17,1622.83 1004.5,1615.25 1010,1612C1015.5,1608.75 1020,1607 1030,1605.5C1040,1604 1054.67,1604 1070,1603C1085.33,1602 1102,1599.75 1122,1599.5C1142,1599.25 1170,1601.67 1190,1601.5C1210,1601.33 1226.17,1599.67 1242,1598.5C1257.83,1597.33 1270.33,1595.5 1285,1594.5C1299.67,1593.5 1318.33,1593.58 1330,1592.5C1341.67,1591.42 1348.33,1589.75 1355,1588C1361.67,1586.25 1365.83,1584.37 1370,1582C1374.17,1579.63 1373.38,1579.63 1380,1573.8C1386.62,1567.97 1401.03,1552.95 1409.7,1547C1418.37,1541.05 1426.55,1541.57 1432,1538.1C1437.45,1534.63 1439.4,1530.22 1442.4,1526.2C1445.4,1522.18 1447.77,1516.85 1450,1514C1452.23,1511.15 1454.13,1509.6 1455.8,1509.1C1457.47,1508.6 1458.77,1509.63 1460,1511C1461.23,1512.37 1461.67,1511.78 1463.2,1517.3C1464.73,1522.82 1466.97,1534.68 1469.2,1544.1C1471.43,1553.52 1473.63,1567 1476.6,1573.8C1479.57,1580.6 1482.03,1584.4 1487,1584.9C1491.97,1585.4 1500.7,1583.6 1506.4,1576.8C1512.1,1570 1516.25,1557.48 1521.2,1544.1C1526.15,1530.72 1531.13,1506.3 1536.1,1496.5C1541.07,1486.7 1547.35,1488.05 1551,1485.3C1554.65,1482.55 1556.15,1481.48 1558,1480C1559.85,1478.52 1560.77,1476.57 1562.1,1476.4C1563.43,1476.23 1565,1477.63 1566,1479C1567,1480.37 1566.88,1475 1568.1,1484.6C1569.32,1494.2 1571.45,1521.23 1573.3,1536.6C1575.15,1551.97 1576.23,1568.12 1579.2,1576.8C1582.17,1585.48 1582.68,1586.48 1591.1,1588.7C1599.52,1590.92 1623.27,1589.87 1629.7,1590.1 L1629.7,1590.1C1629.7,1590.42 1634.65,1589.85 1629.7,1592C1624.75,1594.15 1611.62,1600.13 1600,1603C1588.38,1605.87 1570,1607.03 1560,1609.2C1550,1611.37 1545.68,1612.28 1540,1616C1534.32,1619.72 1531.12,1623.2 1525.9,1631.5C1520.68,1639.8 1513.57,1655.8 1508.7,1665.8C1503.83,1675.8 1500.42,1686.78 1496.7,1691.5C1492.98,1696.22 1490.12,1691.53 1486.4,1694.1C1482.68,1696.67 1477.63,1703.42 1474.4,1706.9C1471.17,1710.38 1468.72,1713.28 1467,1715C1465.28,1716.72 1465.27,1718.87 1464.1,1717.2C1462.93,1715.53 1461.72,1715 1460,1705C1458.28,1695 1455.97,1670.2 1453.8,1657.2C1451.63,1644.2 1449,1633.58 1447,1627C1445,1620.42 1445.8,1619.82 1441.8,1617.7C1437.8,1615.58 1429,1612.58 1423,1614.3C1417,1616.02 1411.53,1618.28 1405.8,1628C1400.07,1637.72 1392.9,1663.43 1388.6,1672.6C1384.3,1681.77 1382,1680.85 1380,1683C1378,1685.15 1378.6,1686.17 1376.6,1685.5C1374.6,1684.83 1370.85,1681.43 1368,1679C1365.15,1676.57 1363.2,1673.68 1359.5,1670.9C1355.8,1668.12 1350.08,1663.58 1345.8,1662.3C1341.52,1661.02 1337.23,1664.05 1333.8,1663.2C1330.37,1662.35 1328.92,1661.92 1325.2,1657.2C1321.48,1652.48 1316.65,1641.18 1311.5,1634.9C1306.35,1628.62 1302.88,1623.37 1294.3,1619.5C1285.72,1615.63 1271.55,1612.87 1260,1611.7C1248.45,1610.53 1239.33,1612.2 1225,1612.5C1210.67,1612.8 1191.17,1613 1174,1613.5C1156.83,1614 1137.83,1614.42 1122,1615.5C1106.17,1616.58 1094.67,1619 1079,1620C1063.33,1621 1041.67,1620.67 1028,1621.5C1014.33,1622.33 1002.17,1624.42 997,1625" stroke="#ef7c22"/>
<path d="M997,1628.6C999.28,1625.75 1005.55,1615.65 1010.7,1611.5C1015.85,1607.35 1017.88,1605.42 1027.9,1603.7C1037.92,1601.98 1055.08,1602.33 1070.8,1601.2C1086.52,1600.07 1109.33,1597.25 1122.2,1596.9C1135.07,1596.55 1136.57,1598.62 1148,1599.1C1159.43,1599.58 1175.08,1600.32 1190.8,1599.8C1206.52,1599.28 1226.6,1597.35 1242.3,1596C1258,1594.65 1270.62,1592.65 1285,1591.7C1299.38,1590.75 1317.05,1591.4 1328.6,1590.3C1340.15,1589.2 1347.43,1587.15 1354.3,1585.1C1361.17,1583.05 1365.52,1580.63 1369.8,1578C1374.08,1575.37 1375.82,1573.22 1380,1569.3C1384.18,1565.38 1389.95,1559.2 1394.9,1554.5C1399.85,1549.8 1404.75,1545.07 1409.7,1541.1C1414.65,1537.13 1420.38,1533.8 1424.6,1530.7C1428.82,1527.6 1431.28,1525.97 1435,1522.5C1438.72,1519.03 1443.4,1514.65 1446.9,1509.9C1450.4,1505.15 1453.65,1497.35 1456,1494C1458.35,1490.65 1459.33,1489.97 1461,1489.8C1462.67,1489.63 1464.63,1491.38 1466,1493C1467.37,1494.62 1467.68,1493.47 1469.2,1499.5C1470.72,1505.53 1473.12,1518.55 1475.1,1529.2C1477.08,1539.85 1478.37,1555.35 1481.1,1563.4C1483.83,1571.45 1487.28,1576.02 1491.5,1577.5C1495.72,1578.98 1502.18,1576.38 1506.4,1572.3C1510.62,1568.22 1513.08,1562.67 1516.8,1553C1520.52,1543.33 1524.73,1526.93 1528.7,1514.3C1532.67,1501.67 1536.88,1485.62 1540.6,1477.2C1544.32,1468.78 1548.28,1466.53 1551,1463.8C1553.72,1461.07 1555.07,1462.27 1556.9,1460.8C1558.73,1459.33 1560.38,1456.73 1562,1455C1563.62,1453.27 1565.1,1450.4 1566.6,1450.4C1568.1,1450.4 1569.88,1453.07 1571,1455C1572.12,1456.93 1572.38,1457 1573.3,1462C1574.22,1467 1575.52,1476.28 1576.5,1485C1577.48,1493.72 1578,1500.73 1579.2,1514.3C1580.4,1527.87 1581.72,1555 1583.7,1566.4C1585.68,1577.8 1587.88,1579.23 1591.1,1582.7C1594.32,1586.17 1596.57,1586.33 1603,1587.2C1609.43,1588.07 1625.25,1587.78 1629.7,1587.9 L1629.7,1587.9C1629.7,1588.27 1634.15,1587.58 1629.7,1590.1C1625.25,1592.62 1614.88,1599.77 1603,1603C1591.12,1606.23 1569.55,1606.93 1558.4,1609.5C1547.25,1612.07 1541.8,1614.43 1536.1,1618.4C1530.4,1622.37 1527.33,1628.27 1524.2,1633.3C1521.07,1638.33 1520.73,1639.77 1517.3,1648.6C1513.87,1657.43 1507.32,1677.07 1503.6,1686.3C1499.88,1695.53 1497,1700.28 1495,1704C1493,1707.72 1493.6,1707.4 1491.6,1708.6C1489.6,1709.8 1486.43,1708.62 1483,1711.2C1479.57,1713.78 1474.17,1720.13 1471,1724.1C1467.83,1728.07 1465.58,1732.72 1464,1735C1462.42,1737.28 1462.42,1738.3 1461.5,1737.8C1460.58,1737.3 1459.5,1735.43 1458.5,1732C1457.5,1728.57 1457.13,1728.23 1455.5,1717.2C1453.87,1706.17 1450.78,1680 1448.7,1665.8C1446.62,1651.6 1444.43,1638.87 1443,1632C1441.57,1625.13 1441.6,1627.02 1440.1,1624.6C1438.6,1622.18 1436,1618.78 1434,1617.5C1432,1616.22 1430.43,1616.48 1428.1,1616.9C1425.77,1617.32 1422.87,1618.15 1420,1620C1417.13,1621.85 1414.7,1622.08 1410.9,1628C1407.1,1633.92 1401.35,1646.5 1397.2,1655.5C1393.05,1664.5 1389.2,1675.42 1386,1682C1382.8,1688.58 1380.42,1692.27 1378,1695C1375.58,1697.73 1373.83,1698.48 1371.5,1698.4C1369.17,1698.32 1366.87,1696.52 1364,1694.5C1361.13,1692.48 1358.77,1689.67 1354.3,1686.3C1349.83,1682.93 1342.05,1676.72 1337.2,1674.3C1332.35,1671.88 1328.92,1674.65 1325.2,1671.8C1321.48,1668.95 1318.62,1663.35 1314.9,1657.2C1311.18,1651.05 1307.77,1641.33 1302.9,1634.9C1298.03,1628.47 1290.08,1621.5 1285.7,1618.6C1281.32,1615.7 1286.7,1617.83 1276.6,1617.5C1266.5,1617.17 1242.25,1616.6 1225.1,1616.6C1207.95,1616.6 1190.85,1616.98 1173.7,1617.5C1156.55,1618.02 1137.93,1618.48 1122.2,1619.7C1106.47,1620.92 1095.02,1623.88 1079.3,1624.8C1063.58,1625.72 1041.62,1624.42 1027.9,1625.2C1014.18,1625.98 1002.15,1628.78 997,1629.5" stroke="#fb3535"/>
</g>
<rect x="982.2" y="1367" width="663.2" height="477.9" fill="none" stroke="#000" stroke-width="2.7"/>
<line x1="972.7" y1="1844.8" x2="982.2" y2="1844.8" stroke="#000" stroke-width="2.7"/>
<text x="966.6" y="1854.5" font-family='"Liberation Sans", Arial, Helvetica, sans-serif' font-size="31.6" font-weight="normal" fill="#000" text-anchor="end" >-2</text>
<line x1="977.2" y1="1785.08" x2="982.2" y2="1785.08" stroke="#000" stroke-width="2.7"/>
<line x1="972.7" y1="1725.35" x2="982.2" y2="1725.35" stroke="#000" stroke-width="2.7"/>
<text x="966.6" y="1735.05" font-family='"Liberation Sans", Arial, Helvetica, sans-serif' font-size="31.6" font-weight="normal" fill="#000" text-anchor="end" >-1</text>
<line x1="977.2" y1="1665.62" x2="982.2" y2="1665.62" stroke="#000" stroke-width="2.7"/>
<line x1="972.7" y1="1605.9" x2="982.2" y2="1605.9" stroke="#000" stroke-width="2.7"/>
<text x="966.6" y="1615.6" font-family='"Liberation Sans", Arial, Helvetica, sans-serif' font-size="31.6" font-weight="normal" fill="#000" text-anchor="end" >0</text>
<line x1="977.2" y1="1546.18" x2="982.2" y2="1546.18" stroke="#000" stroke-width="2.7"/>
<line x1="972.7" y1="1486.45" x2="982.2" y2="1486.45" stroke="#000" stroke-width="2.7"/>
<text x="966.6" y="1496.15" font-family='"Liberation Sans", Arial, Helvetica, sans-serif' font-size="31.6" font-weight="normal" fill="#000" text-anchor="end" >1</text>
<line x1="977.2" y1="1426.73" x2="982.2" y2="1426.73" stroke="#000" stroke-width="2.7"/>
<line x1="972.7" y1="1367" x2="982.2" y2="1367" stroke="#000" stroke-width="2.7"/>
<text x="966.6" y="1376.7" font-family='"Liberation Sans", Arial, Helvetica, sans-serif' font-size="31.6" font-weight="normal" fill="#000" text-anchor="end" >2</text>
<line x1="998" y1="1844.9" x2="998" y2="1853.9" stroke="#000" stroke-width="2.7"/>
<text x="998" y="1886" font-family='"Liberation Sans", Arial, Helvetica, sans-serif' font-size="31.5" font-weight="normal" fill="#000" text-anchor="middle" >2.0</text>
<line x1="1076.95" y1="1844.9" x2="1076.95" y2="1849.9" stroke="#000" stroke-width="2.7"/>
<line x1="1155.9" y1="1844.9" x2="1155.9" y2="1853.9" stroke="#000" stroke-width="2.7"/>
<text x="1155.9" y="1886" font-family='"Liberation Sans", Arial, Helvetica, sans-serif' font-size="31.5" font-weight="normal" fill="#000" text-anchor="middle" >2.5</text>
<line x1="1234.85" y1="1844.9" x2="1234.85" y2="1849.9" stroke="#000" stroke-width="2.7"/>
<line x1="1313.8" y1="1844.9" x2="1313.8" y2="1853.9" stroke="#000" stroke-width="2.7"/>
<text x="1313.8" y="1886" font-family='"Liberation Sans", Arial, Helvetica, sans-serif' font-size="31.5" font-weight="normal" fill="#000" text-anchor="middle" >3.0</text>
<line x1="1392.75" y1="1844.9" x2="1392.75" y2="1849.9" stroke="#000" stroke-width="2.7"/>
<line x1="1471.7" y1="1844.9" x2="1471.7" y2="1853.9" stroke="#000" stroke-width="2.7"/>
<text x="1471.7" y="1886" font-family='"Liberation Sans", Arial, Helvetica, sans-serif' font-size="31.5" font-weight="normal" fill="#000" text-anchor="middle" >3.5</text>
<line x1="1550.65" y1="1844.9" x2="1550.65" y2="1849.9" stroke="#000" stroke-width="2.7"/>
<line x1="1629.6" y1="1844.9" x2="1629.6" y2="1853.9" stroke="#000" stroke-width="2.7"/>
<text x="1629.6" y="1886" font-family='"Liberation Sans", Arial, Helvetica, sans-serif' font-size="31.5" font-weight="normal" fill="#000" text-anchor="middle" >4.0</text>
<text x="1134.8" y="1942.1" font-family='"Liberation Sans", Arial, Helvetica, sans-serif' font-size="35.2" textLength="356" lengthAdjust="spacingAndGlyphs">Potential (V vs. Na<tspan dy="-13" font-size="22">+</tspan><tspan dy="13">/Na)</tspan></text>
<text transform="translate(909.5,1613.8) rotate(-90)" font-family='"Liberation Sans", Arial, Helvetica, sans-serif' font-size="36.5" text-anchor="middle" textLength="448.5" lengthAdjust="spacingAndGlyphs">Current density (*10<tspan dy="-14" font-size="24">-3</tspan><tspan dy="14"> A cm</tspan><tspan dy="-14" font-size="24">-2</tspan><tspan dy="14">)</tspan></text>
<line x1="1002" y1="1391.1" x2="1062.8" y2="1391.1" stroke="#98e22b" stroke-width="3.3"/>
<text x="1070" y="1400.4" font-family='"Liberation Sans", Arial, Helvetica, sans-serif' font-size="25.5" font-weight="normal" fill="#000" text-anchor="start" textLength="101.5" lengthAdjust="spacingAndGlyphs" >0.2 mv/s</text>
<line x1="1180.1" y1="1391.1" x2="1239.8" y2="1391.1" stroke="#e3da2b" stroke-width="3.3"/>
<text x="1247.7" y="1400.4" font-family='"Liberation Sans", Arial, Helvetica, sans-serif' font-size="25.5" font-weight="normal" fill="#000" text-anchor="start" textLength="101.5" lengthAdjust="spacingAndGlyphs" >0.4 mv/s</text>
<line x1="1002" y1="1424.3" x2="1062.8" y2="1424.3" stroke="#e3aa24" stroke-width="3.3"/>
<text x="1070" y="1433.4" font-family='"Liberation Sans", Arial, Helvetica, sans-serif' font-size="25.5" font-weight="normal" fill="#000" text-anchor="start" textLength="101.5" lengthAdjust="spacingAndGlyphs" >0.6 mv/s</text>
<line x1="1180.1" y1="1424.3" x2="1239.8" y2="1424.3" stroke="#ef7c22" stroke-width="3.3"/>
<text x="1247.7" y="1433.4" font-family='"Liberation Sans", Arial, Helvetica, sans-serif' font-size="25.5" font-weight="normal" fill="#000" text-anchor="start" textLength="101.5" lengthAdjust="spacingAndGlyphs" >0.8 mv/s</text>
<line x1="1002" y1="1457.6" x2="1062.8" y2="1457.6" stroke="#fb3535" stroke-width="3.3"/>
<text x="1070" y="1466.2" font-family='"Liberation Sans", Arial, Helvetica, sans-serif' font-size="25.5" font-weight="normal" fill="#000" text-anchor="start" textLength="101.5" lengthAdjust="spacingAndGlyphs" >1.0 mv/s</text>
<text x="1451.5" y="1474" font-family='"Liberation Sans", Arial, Helvetica, sans-serif' font-size="30" font-weight="bold" fill="#000" text-anchor="start" >a'</text>
<text x="1557.8" y="1438" font-family='"Liberation Sans", Arial, Helvetica, sans-serif' font-size="29" font-weight="bold" fill="#000" text-anchor="start" >b'</text>
<text x="994.8" y="1821.1" font-family='"Liberation Sans", Arial, Helvetica, sans-serif' font-size="27.5" textLength="256" lengthAdjust="spacingAndGlyphs"><tspan>P2-Na</tspan><tspan dy="8" font-size="18.5">2/3</tspan><tspan dy="-8">Ni</tspan><tspan dy="8" font-size="18.5">1/3</tspan><tspan dy="-8">Mn</tspan><tspan dy="8" font-size="18.5">2/3</tspan><tspan dy="-8">O</tspan><tspan dy="8" font-size="18.5">2</tspan></text>
<text x="868.5" y="1360.4" font-family='"Liberation Sans", Arial, Helvetica, sans-serif' font-size="39.5" font-weight="bold" fill="#000" text-anchor="start" >f</text>
</svg>
</body></html>
